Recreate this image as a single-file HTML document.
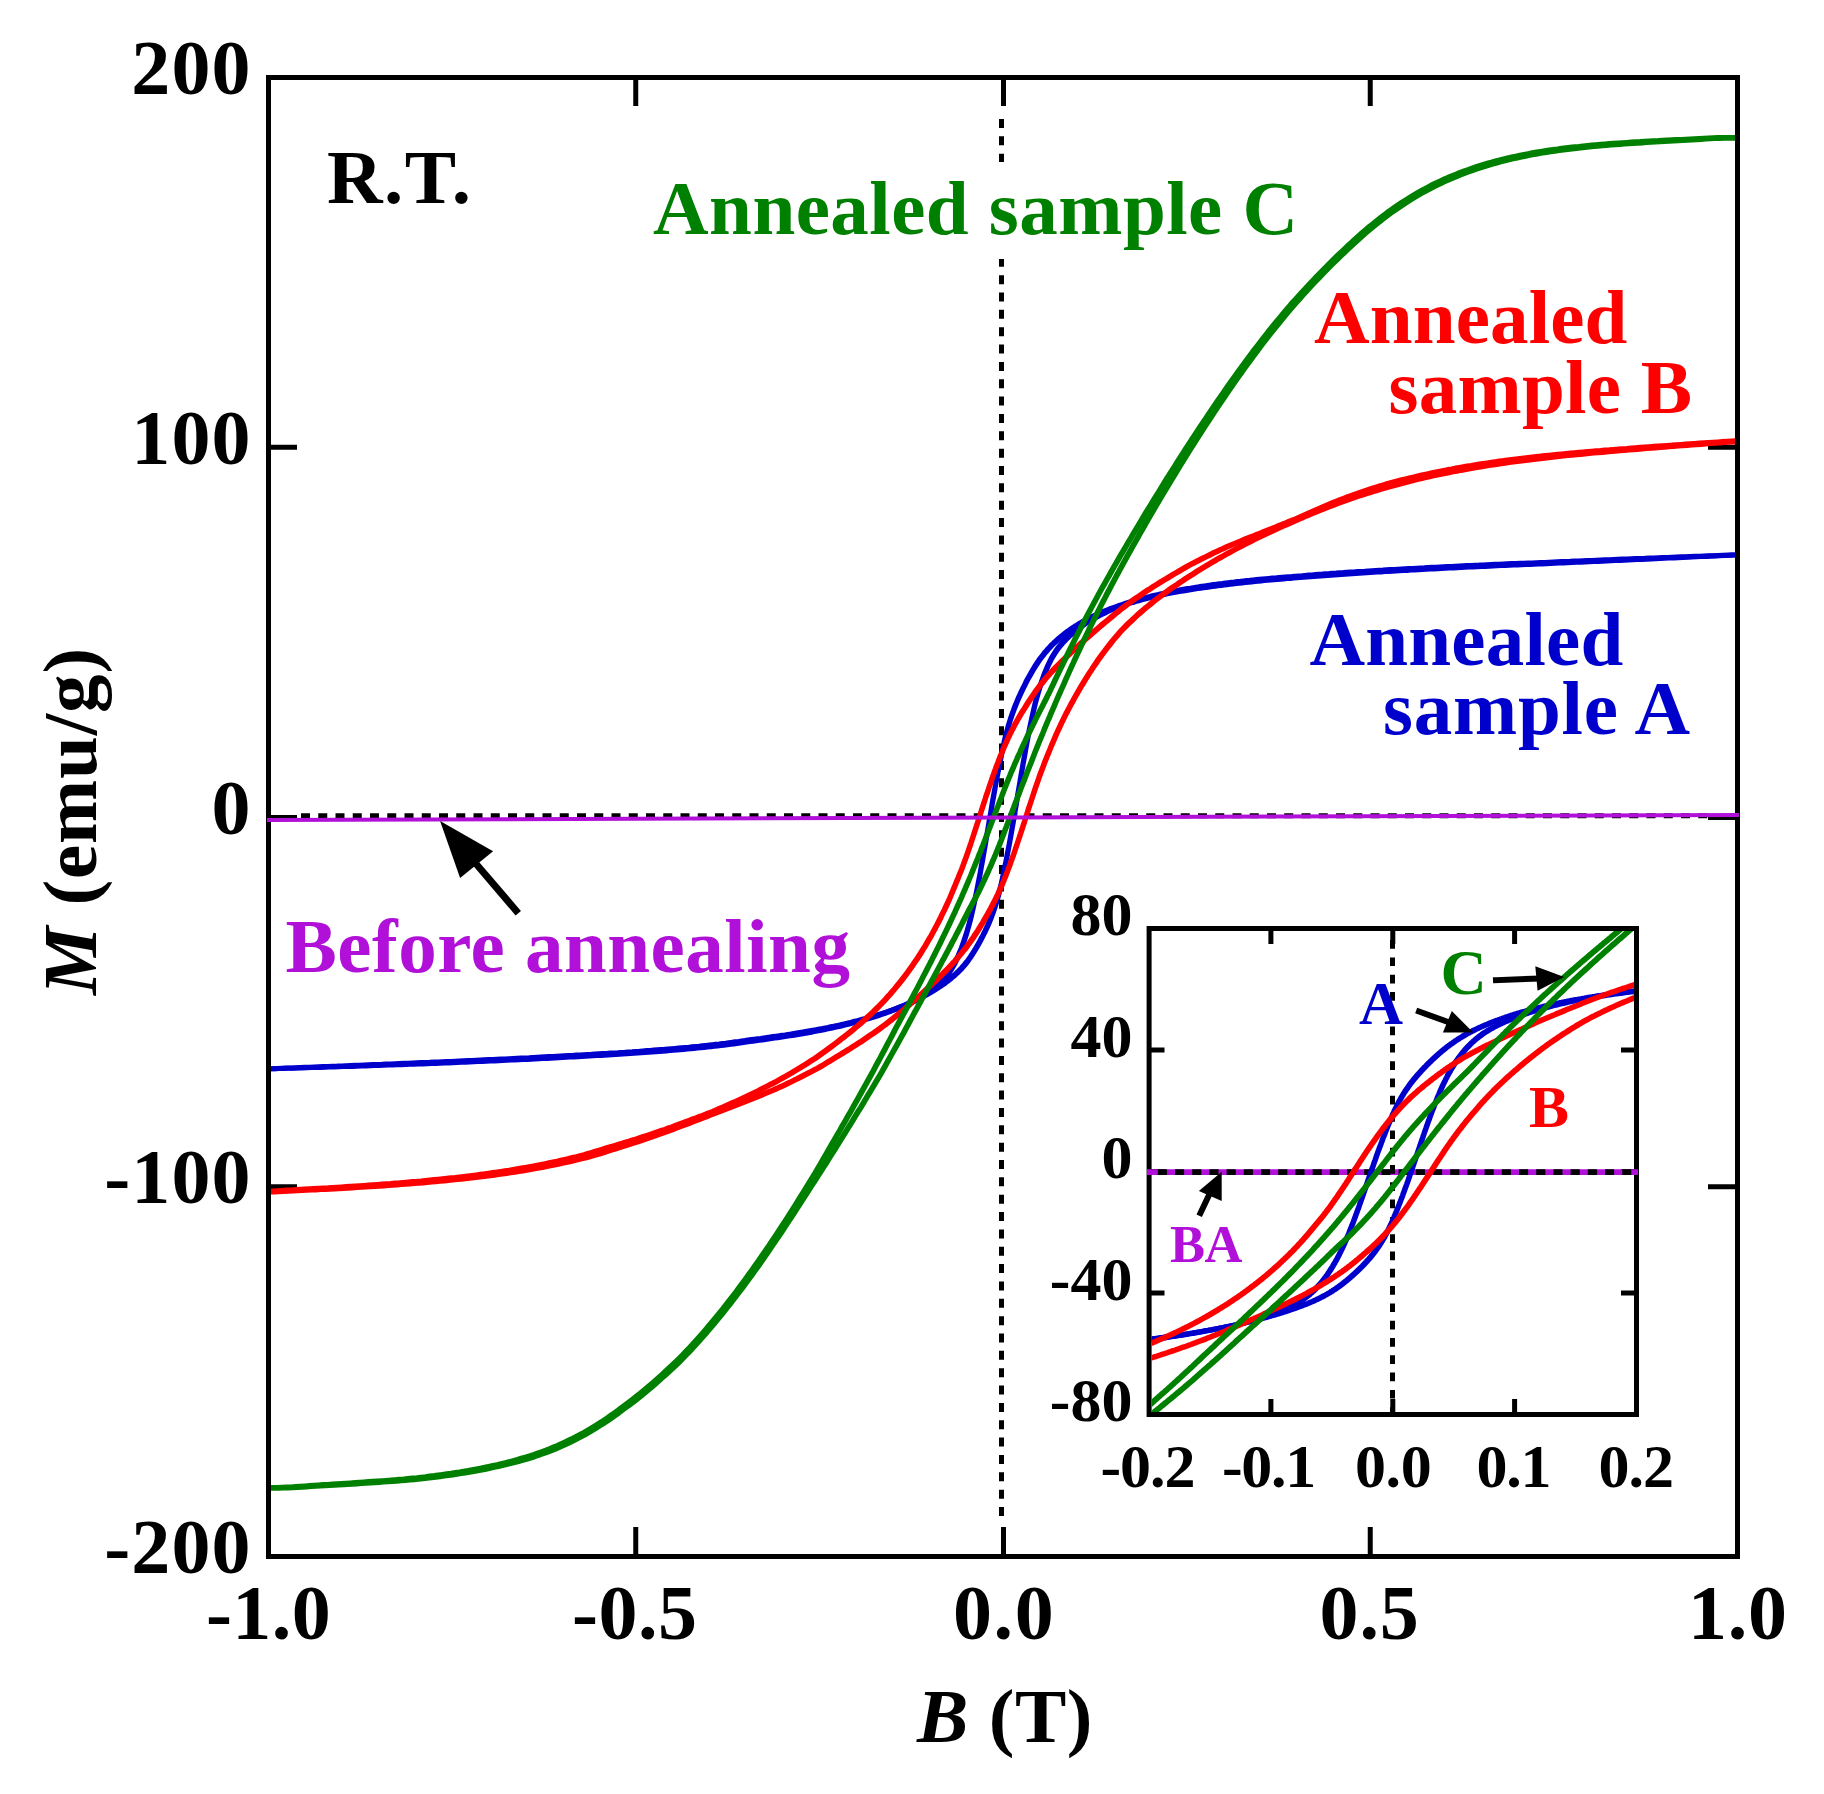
<!DOCTYPE html>
<html lang="en"><head><meta charset="utf-8"><title>M-B hysteresis loops</title>
<style>html,body{margin:0;padding:0;background:#fff}svg{display:block}text{font-family:"Liberation Serif",serif;font-weight:bold}</style></head><body>
<svg width="1824" height="1794" viewBox="0 0 1824 1794">
<rect width="1824" height="1794" fill="#fff"/>
<defs><filter id="pen" filterUnits="userSpaceOnUse" x="0" y="0" width="1824" height="1794"><feMorphology operator="dilate" radius="1"/></filter><clipPath id="cm"><rect x="271" y="80" width="1464" height="1474"/></clipPath><clipPath id="ci"><rect x="1151.6" y="931" width="482.4" height="481"/></clipPath></defs>
<g id="main-axes" stroke="#000" stroke-width="5" fill="none" stroke-linecap="butt">
<rect x="268.5" y="77.5" width="1469" height="1479"/>
<path d="M635.75,77.5V106M635.75,1556.5V1527"/>
<path d="M1003.5,77.5V106M1003.5,1556.5V1527"/>
<path d="M1370.25,77.5V106M1370.25,1556.5V1527"/>
<path d="M268.5,447.25H297M1737.5,447.25H1708"/>
<path d="M268.5,817.5H297M1737.5,817.5H1708"/>
<path d="M268.5,1186.75H297M1737.5,1186.75H1708"/>
</g>
<g id="main-zero" stroke="#000" stroke-width="5" fill="none" stroke-dasharray="9 8.35">
<path d="M1001.5,119V1518"/>
<path d="M301,815.7H1709" stroke-dasharray="9 8.25"/>
</g>
<g id="main-curves" fill="none" stroke-width="3" stroke-linejoin="round" clip-path="url(#cm)">
<path filter="url(#pen)" stroke="#0000cd" d="M268.5,1068.9 L273.2,1068.8 L277.9,1068.6 L282.6,1068.5 L287.3,1068.3 L291.9,1068.2 L296.6,1068.1 L301.2,1067.9 L305.8,1067.8 L310.4,1067.6 L315.0,1067.5 L319.6,1067.4 L324.2,1067.2 L328.8,1067.1 L333.3,1066.9 L337.9,1066.8 L342.4,1066.6 L346.9,1066.5 L351.4,1066.4 L355.9,1066.2 L360.4,1066.1 L364.9,1065.9 L369.4,1065.8 L373.8,1065.6 L378.2,1065.4 L382.7,1065.3 L387.1,1065.1 L391.5,1065.0 L395.9,1064.8 L400.3,1064.7 L404.6,1064.5 L409.0,1064.3 L413.3,1064.2 L417.7,1064.0 L422.0,1063.9 L426.3,1063.7 L430.6,1063.5 L434.9,1063.4 L439.1,1063.2 L443.4,1063.0 L447.6,1062.9 L451.9,1062.7 L456.1,1062.5 L460.3,1062.3 L464.5,1062.2 L468.7,1062.0 L472.9,1061.8 L477.0,1061.6 L481.2,1061.5 L485.3,1061.3 L489.4,1061.1 L493.6,1060.9 L497.7,1060.7 L501.7,1060.5 L505.8,1060.3 L509.9,1060.1 L513.9,1059.9 L518.0,1059.8 L522.0,1059.6 L526.0,1059.4 L530.0,1059.2 L534.0,1059.0 L538.0,1058.8 L541.9,1058.6 L545.9,1058.4 L549.8,1058.2 L553.7,1058.0 L557.7,1057.8 L561.5,1057.5 L565.4,1057.3 L569.3,1057.1 L573.2,1056.9 L577.0,1056.7 L580.8,1056.5 L584.7,1056.3 L588.5,1056.1 L592.3,1055.8 L596.0,1055.6 L599.8,1055.4 L603.6,1055.2 L607.3,1054.9 L611.0,1054.7 L614.8,1054.5 L618.5,1054.3 L622.1,1054.0 L625.8,1053.8 L629.5,1053.5 L633.1,1053.3 L636.8,1053.0 L640.4,1052.8 L644.0,1052.5 L647.6,1052.2 L651.2,1052.0 L654.7,1051.7 L658.3,1051.4 L661.8,1051.2 L665.4,1050.9 L668.9,1050.6 L672.4,1050.3 L675.9,1050.0 L679.3,1049.7 L682.8,1049.4 L686.2,1049.1 L689.7,1048.8 L693.1,1048.5 L696.5,1048.1 L699.9,1047.8 L703.2,1047.4 L706.6,1047.1 L709.9,1046.7 L713.3,1046.3 L716.6,1046.0 L719.9,1045.6 L723.2,1045.2 L726.4,1044.8 L729.7,1044.3 L732.9,1043.9 L736.2,1043.4 L739.4,1043.0 L742.6,1042.5 L745.8,1042.1 L748.9,1041.6 L752.1,1041.2 L755.2,1040.7 L758.4,1040.3 L761.5,1039.9 L764.6,1039.4 L767.7,1039.0 L770.7,1038.5 L773.8,1038.1 L776.8,1037.7 L779.8,1037.2 L782.8,1036.7 L785.8,1036.3 L788.8,1035.8 L791.8,1035.4 L794.7,1034.9 L797.6,1034.4 L800.5,1033.9 L803.4,1033.4 L806.3,1032.9 L809.2,1032.4 L812.0,1031.9 L814.9,1031.3 L817.7,1030.8 L820.5,1030.3 L823.3,1029.7 L826.1,1029.1 L828.8,1028.6 L831.5,1028.0 L834.3,1027.4 L837.0,1026.8 L839.7,1026.2 L842.3,1025.5 L845.0,1024.9 L847.6,1024.2 L850.3,1023.6 L852.9,1022.9 L855.4,1022.2 L858.0,1021.5 L860.6,1020.8 L863.1,1020.1 L865.6,1019.4 L868.1,1018.6 L870.6,1017.9 L873.1,1017.1 L875.5,1016.3 L878.0,1015.5 L880.4,1014.7 L882.8,1013.9 L885.2,1013.0 L887.5,1012.2 L889.9,1011.3 L892.2,1010.4 L894.5,1009.5 L896.8,1008.6 L899.1,1007.6 L901.3,1006.7 L903.6,1005.8 L905.8,1004.8 L908.0,1003.8 L910.1,1002.8 L912.3,1001.8 L914.4,1000.8 L916.6,999.8 L918.7,998.8 L920.8,997.7 L922.8,996.6 L924.9,995.5 L926.9,994.4 L928.9,993.3 L930.9,992.1 L932.8,990.9 L934.8,989.7 L936.7,988.5 L938.6,987.3 L940.5,986.0 L942.3,984.8 L944.2,983.5 L946.0,982.1 L947.8,980.8 L949.6,979.4 L951.3,978.0 L953.0,976.5 L954.8,975.0 L956.4,973.5 L958.1,971.9 L959.7,970.3 L961.4,968.6 L962.9,966.8 L964.5,965.0 L966.1,963.0 L967.6,961.1 L969.1,959.0 L970.6,956.9 L972.0,954.7 L973.4,952.5 L974.8,950.3 L976.2,948.0 L977.6,945.6 L978.9,943.3 L980.2,940.9 L981.4,938.5 L982.7,936.1 L983.9,933.7 L985.1,931.3 L986.2,928.8 L987.4,926.4 L988.5,923.9 L989.5,921.4 L990.6,918.9 L991.6,916.3 L992.5,913.7 L993.5,911.1 L994.4,908.5 L995.3,905.8 L996.1,903.2 L996.9,900.5 L997.7,897.9 L998.4,895.3 L999.1,892.8 L999.7,890.3 L1000.3,887.9 L1000.9,885.6 L1001.4,883.5 L1001.8,881.5 L1002.2,879.8 L1002.5,878.2 L1002.8,877.0 L1003.0,876.2 L1003.0,875.9 L1003.2,875.1 L1003.5,873.9 L1003.8,872.3 L1004.2,870.4 L1004.6,868.2 L1005.1,865.7 L1005.7,863.0 L1006.3,860.0 L1006.9,856.7 L1007.6,853.1 L1008.3,849.3 L1009.1,845.2 L1009.9,840.8 L1010.7,836.2 L1011.6,831.3 L1012.5,826.1 L1013.5,820.6 L1014.4,814.9 L1015.4,809.0 L1016.5,802.8 L1017.5,796.4 L1018.6,789.9 L1019.8,783.2 L1020.9,776.3 L1022.1,769.4 L1023.3,762.4 L1024.6,755.4 L1025.8,748.4 L1027.1,741.4 L1028.4,734.5 L1029.8,727.8 L1031.2,721.2 L1032.6,714.8 L1034.0,708.6 L1035.4,702.7 L1036.9,697.2 L1038.4,691.9 L1039.9,686.9 L1041.5,682.2 L1043.1,677.8 L1044.6,673.6 L1046.3,669.6 L1047.9,665.9 L1049.6,662.4 L1051.2,659.1 L1053.0,656.1 L1054.7,653.3 L1056.4,650.6 L1058.2,648.2 L1060.0,645.9 L1061.8,643.7 L1063.7,641.6 L1065.5,639.7 L1067.4,637.8 L1069.3,636.0 L1071.2,634.3 L1073.2,632.6 L1075.1,631.0 L1077.1,629.5 L1079.1,627.9 L1081.1,626.4 L1083.2,625.0 L1085.2,623.6 L1087.3,622.2 L1089.4,620.9 L1091.6,619.7 L1093.7,618.4 L1095.9,617.3 L1098.0,616.1 L1100.2,615.0 L1102.4,613.9 L1104.7,612.8 L1106.9,611.7 L1109.2,610.7 L1111.5,609.7 L1113.8,608.7 L1116.1,607.8 L1118.5,606.9 L1120.8,606.0 L1123.2,605.2 L1125.6,604.4 L1128.0,603.6 L1130.5,602.9 L1132.9,602.2 L1135.4,601.4 L1137.9,600.7 L1140.4,600.1 L1142.9,599.4 L1145.4,598.7 L1148.0,598.1 L1150.6,597.5 L1153.1,596.8 L1155.7,596.2 L1158.4,595.6 L1161.0,595.1 L1163.7,594.5 L1166.3,593.9 L1169.0,593.4 L1171.7,592.9 L1174.5,592.3 L1177.2,591.8 L1179.9,591.3 L1182.7,590.9 L1185.5,590.4 L1188.3,589.9 L1191.1,589.5 L1194.0,589.1 L1196.8,588.6 L1199.7,588.2 L1202.6,587.8 L1205.5,587.4 L1208.4,587.0 L1211.3,586.6 L1214.2,586.2 L1217.2,585.8 L1220.2,585.4 L1223.2,585.0 L1226.2,584.7 L1229.2,584.3 L1232.2,583.9 L1235.3,583.6 L1238.3,583.2 L1241.4,582.9 L1244.5,582.5 L1247.6,582.2 L1250.8,581.9 L1253.9,581.6 L1257.1,581.3 L1260.2,580.9 L1263.4,580.6 L1266.6,580.3 L1269.8,580.1 L1273.1,579.8 L1276.3,579.5 L1279.6,579.2 L1282.8,578.9 L1286.1,578.6 L1289.4,578.4 L1292.7,578.1 L1296.1,577.8 L1299.4,577.5 L1302.8,577.3 L1306.1,577.0 L1309.5,576.7 L1312.9,576.5 L1316.3,576.2 L1319.8,575.9 L1323.2,575.7 L1326.7,575.4 L1330.1,575.2 L1333.6,574.9 L1337.1,574.7 L1340.6,574.4 L1344.2,574.2 L1347.7,574.0 L1351.3,573.7 L1354.8,573.5 L1358.4,573.2 L1362.0,573.0 L1365.6,572.8 L1369.2,572.5 L1372.9,572.3 L1376.5,572.1 L1380.2,571.9 L1383.9,571.6 L1387.5,571.4 L1391.2,571.2 L1395.0,571.0 L1398.7,570.8 L1402.4,570.6 L1406.2,570.4 L1410.0,570.1 L1413.7,569.9 L1417.5,569.7 L1421.3,569.5 L1425.2,569.3 L1429.0,569.1 L1432.8,568.9 L1436.7,568.7 L1440.6,568.5 L1444.5,568.3 L1448.3,568.1 L1452.3,567.9 L1456.2,567.7 L1460.1,567.5 L1464.1,567.3 L1468.0,567.1 L1472.0,566.9 L1476.0,566.8 L1480.0,566.6 L1484.0,566.4 L1488.0,566.2 L1492.1,566.0 L1496.1,565.8 L1500.2,565.6 L1504.3,565.4 L1508.3,565.3 L1512.4,565.1 L1516.6,564.9 L1520.7,564.7 L1524.8,564.6 L1529.0,564.4 L1533.1,564.3 L1537.3,564.1 L1541.5,563.9 L1545.7,563.7 L1549.9,563.5 L1554.1,563.3 L1558.4,563.1 L1562.6,562.9 L1566.9,562.7 L1571.1,562.5 L1575.4,562.3 L1579.7,562.2 L1584.0,562.0 L1588.3,561.8 L1592.7,561.6 L1597.0,561.4 L1601.4,561.2 L1605.7,561.0 L1610.1,560.8 L1614.5,560.6 L1618.9,560.4 L1623.3,560.2 L1627.8,560.0 L1632.2,559.8 L1636.6,559.6 L1641.1,559.4 L1645.6,559.2 L1650.1,558.9 L1654.6,558.7 L1659.1,558.5 L1663.6,558.3 L1668.1,558.1 L1672.7,557.9 L1677.2,557.7 L1681.8,557.5 L1686.4,557.2 L1691.0,557.0 L1695.6,556.8 L1700.2,556.6 L1704.8,556.4 L1709.4,556.2 L1714.1,555.9 L1718.7,555.7 L1723.4,555.5 L1728.1,555.3 L1732.8,555.1 L1737.5,554.9"/>
<path filter="url(#pen)" stroke="#0000cd" d="M268.5,1068.9 L273.2,1068.7 L277.9,1068.5 L282.6,1068.3 L287.3,1068.1 L291.9,1067.9 L296.6,1067.7 L301.2,1067.5 L305.8,1067.3 L310.4,1067.2 L315.0,1067.0 L319.6,1066.8 L324.2,1066.6 L328.8,1066.4 L333.3,1066.2 L337.9,1066.1 L342.4,1065.9 L346.9,1065.7 L351.4,1065.5 L355.9,1065.3 L360.4,1065.2 L364.9,1065.0 L369.4,1064.8 L373.8,1064.6 L378.2,1064.4 L382.7,1064.3 L387.1,1064.1 L391.5,1063.9 L395.9,1063.7 L400.3,1063.5 L404.6,1063.3 L409.0,1063.2 L413.3,1063.0 L417.7,1062.8 L422.0,1062.6 L426.3,1062.4 L430.6,1062.3 L434.9,1062.1 L439.1,1061.9 L443.4,1061.7 L447.6,1061.5 L451.9,1061.4 L456.1,1061.2 L460.3,1061.0 L464.5,1060.8 L468.7,1060.6 L472.9,1060.4 L477.0,1060.2 L481.2,1060.0 L485.3,1059.8 L489.4,1059.6 L493.6,1059.5 L497.7,1059.3 L501.7,1059.1 L505.8,1058.9 L509.9,1058.7 L513.9,1058.5 L518.0,1058.3 L522.0,1058.1 L526.0,1057.9 L530.0,1057.7 L534.0,1057.4 L538.0,1057.2 L541.9,1057.0 L545.9,1056.8 L549.8,1056.6 L553.7,1056.4 L557.7,1056.2 L561.5,1056.0 L565.4,1055.8 L569.3,1055.6 L573.2,1055.4 L577.0,1055.1 L580.8,1054.9 L584.7,1054.7 L588.5,1054.5 L592.3,1054.3 L596.0,1054.0 L599.8,1053.8 L603.6,1053.6 L607.3,1053.4 L611.0,1053.1 L614.8,1052.9 L618.5,1052.7 L622.1,1052.4 L625.8,1052.2 L629.5,1051.9 L633.1,1051.7 L636.8,1051.4 L640.4,1051.2 L644.0,1050.9 L647.6,1050.6 L651.2,1050.4 L654.7,1050.1 L658.3,1049.8 L661.8,1049.5 L665.4,1049.3 L668.9,1049.0 L672.4,1048.7 L675.9,1048.4 L679.3,1048.1 L682.8,1047.8 L686.2,1047.5 L689.7,1047.2 L693.1,1046.8 L696.5,1046.5 L699.9,1046.2 L703.2,1045.8 L706.6,1045.4 L709.9,1045.1 L713.3,1044.7 L716.6,1044.3 L719.9,1044.0 L723.2,1043.6 L726.4,1043.2 L729.7,1042.7 L732.9,1042.3 L736.2,1041.8 L739.4,1041.4 L742.6,1040.9 L745.8,1040.5 L748.9,1040.0 L752.1,1039.6 L755.2,1039.2 L758.4,1038.8 L761.5,1038.4 L764.6,1037.9 L767.7,1037.5 L770.7,1037.1 L773.8,1036.6 L776.8,1036.2 L779.8,1035.8 L782.8,1035.3 L785.8,1034.9 L788.8,1034.4 L791.8,1034.0 L794.7,1033.5 L797.6,1033.0 L800.5,1032.5 L803.4,1032.1 L806.3,1031.6 L809.2,1031.1 L812.0,1030.6 L814.9,1030.1 L817.7,1029.5 L820.5,1029.0 L823.3,1028.5 L826.1,1027.9 L828.8,1027.4 L831.5,1026.8 L834.3,1026.3 L837.0,1025.7 L839.7,1025.1 L842.3,1024.5 L845.0,1023.9 L847.6,1023.3 L850.3,1022.6 L852.9,1022.0 L855.4,1021.3 L858.0,1020.7 L860.6,1020.0 L863.1,1019.3 L865.6,1018.6 L868.1,1017.9 L870.6,1017.2 L873.1,1016.5 L875.5,1015.7 L878.0,1015.0 L880.4,1014.2 L882.8,1013.4 L885.2,1012.6 L887.5,1011.8 L889.9,1011.0 L892.2,1010.2 L894.5,1009.3 L896.8,1008.5 L899.1,1007.6 L901.3,1006.7 L903.6,1005.8 L905.8,1004.9 L908.0,1003.9 L910.1,1002.9 L912.3,1001.9 L914.4,1000.8 L916.6,999.7 L918.7,998.6 L920.8,997.5 L922.8,996.3 L924.9,995.0 L926.9,993.7 L928.9,992.4 L930.9,991.0 L932.8,989.5 L934.8,988.0 L936.7,986.3 L938.6,984.6 L940.5,982.8 L942.3,980.9 L944.2,978.8 L946.0,976.6 L947.8,974.3 L949.6,971.8 L951.3,969.1 L953.0,966.3 L954.8,963.2 L956.4,959.9 L958.1,956.4 L959.7,952.6 L961.4,948.6 L962.9,944.3 L964.5,939.6 L966.1,934.8 L967.6,929.7 L969.1,924.3 L970.6,918.7 L972.0,912.8 L973.4,906.6 L974.8,900.2 L976.2,893.7 L977.6,886.9 L978.9,880.1 L980.2,873.2 L981.4,866.2 L982.7,859.3 L983.9,852.3 L985.1,845.5 L986.2,838.7 L987.4,832.1 L988.5,825.7 L989.5,819.4 L990.6,813.4 L991.6,807.5 L992.5,801.9 L993.5,796.6 L994.4,791.5 L995.3,786.6 L996.1,782.1 L996.9,777.8 L997.7,773.8 L998.4,770.0 L999.1,766.5 L999.7,763.3 L1000.3,760.4 L1000.9,757.7 L1001.4,755.3 L1001.8,753.1 L1002.2,751.3 L1002.5,749.7 L1002.8,748.5 L1003.0,747.7 L1003.0,747.4 L1003.2,746.6 L1003.5,745.4 L1003.8,744.0 L1004.2,742.2 L1004.6,740.3 L1005.1,738.2 L1005.7,736.0 L1006.3,733.7 L1006.9,731.3 L1007.6,728.8 L1008.3,726.3 L1009.1,723.7 L1009.9,721.1 L1010.7,718.5 L1011.6,715.9 L1012.5,713.3 L1013.5,710.7 L1014.4,708.1 L1015.4,705.6 L1016.5,703.0 L1017.5,700.5 L1018.6,697.9 L1019.8,695.4 L1020.9,692.9 L1022.1,690.4 L1023.3,687.9 L1024.6,685.4 L1025.8,682.8 L1027.1,680.3 L1028.4,677.9 L1029.8,675.4 L1031.2,672.9 L1032.6,670.5 L1034.0,668.2 L1035.4,665.9 L1036.9,663.6 L1038.4,661.4 L1039.9,659.2 L1041.5,657.1 L1043.1,655.1 L1044.6,653.1 L1046.3,651.2 L1047.9,649.3 L1049.6,647.5 L1051.2,645.7 L1053.0,644.0 L1054.7,642.4 L1056.4,640.8 L1058.2,639.2 L1060.0,637.7 L1061.8,636.2 L1063.7,634.7 L1065.5,633.3 L1067.4,631.8 L1069.3,630.4 L1071.2,629.1 L1073.2,627.7 L1075.1,626.4 L1077.1,625.2 L1079.1,623.9 L1081.1,622.8 L1083.2,621.6 L1085.2,620.5 L1087.3,619.4 L1089.4,618.3 L1091.6,617.2 L1093.7,616.2 L1095.9,615.1 L1098.0,614.1 L1100.2,613.1 L1102.4,612.2 L1104.7,611.2 L1106.9,610.3 L1109.2,609.4 L1111.5,608.5 L1113.8,607.7 L1116.1,606.8 L1118.5,606.0 L1120.8,605.1 L1123.2,604.3 L1125.6,603.5 L1128.0,602.8 L1130.5,602.0 L1132.9,601.3 L1135.4,600.6 L1137.9,599.8 L1140.4,599.1 L1142.9,598.5 L1145.4,597.8 L1148.0,597.1 L1150.6,596.5 L1153.1,595.8 L1155.7,595.2 L1158.4,594.6 L1161.0,594.0 L1163.7,593.4 L1166.3,592.8 L1169.0,592.3 L1171.7,591.7 L1174.5,591.2 L1177.2,590.7 L1179.9,590.1 L1182.7,589.6 L1185.5,589.1 L1188.3,588.6 L1191.1,588.2 L1194.0,587.7 L1196.8,587.2 L1199.7,586.8 L1202.6,586.3 L1205.5,585.9 L1208.4,585.5 L1211.3,585.1 L1214.2,584.6 L1217.2,584.2 L1220.2,583.8 L1223.2,583.5 L1226.2,583.1 L1229.2,582.7 L1232.2,582.3 L1235.3,582.0 L1238.3,581.6 L1241.4,581.3 L1244.5,580.9 L1247.6,580.6 L1250.8,580.3 L1253.9,579.9 L1257.1,579.6 L1260.2,579.3 L1263.4,579.0 L1266.6,578.7 L1269.8,578.4 L1273.1,578.1 L1276.3,577.9 L1279.6,577.6 L1282.8,577.3 L1286.1,577.0 L1289.4,576.7 L1292.7,576.5 L1296.1,576.2 L1299.4,575.9 L1302.8,575.7 L1306.1,575.4 L1309.5,575.1 L1312.9,574.9 L1316.3,574.6 L1319.8,574.3 L1323.2,574.1 L1326.7,573.8 L1330.1,573.6 L1333.6,573.3 L1337.1,573.1 L1340.6,572.8 L1344.2,572.6 L1347.7,572.3 L1351.3,572.1 L1354.8,571.9 L1358.4,571.6 L1362.0,571.4 L1365.6,571.2 L1369.2,570.9 L1372.9,570.7 L1376.5,570.5 L1380.2,570.3 L1383.9,570.1 L1387.5,569.8 L1391.2,569.6 L1395.0,569.4 L1398.7,569.2 L1402.4,569.0 L1406.2,568.8 L1410.0,568.6 L1413.7,568.4 L1417.5,568.2 L1421.3,568.0 L1425.2,567.8 L1429.0,567.5 L1432.8,567.3 L1436.7,567.2 L1440.6,567.0 L1444.5,566.8 L1448.3,566.6 L1452.3,566.4 L1456.2,566.2 L1460.1,566.0 L1464.1,565.8 L1468.0,565.6 L1472.0,565.4 L1476.0,565.2 L1480.0,565.1 L1484.0,564.9 L1488.0,564.7 L1492.1,564.5 L1496.1,564.3 L1500.2,564.2 L1504.3,564.0 L1508.3,563.8 L1512.4,563.6 L1516.6,563.5 L1520.7,563.3 L1524.8,563.2 L1529.0,563.0 L1533.1,562.9 L1537.3,562.7 L1541.5,562.5 L1545.7,562.4 L1549.9,562.2 L1554.1,562.0 L1558.4,561.8 L1562.6,561.6 L1566.9,561.4 L1571.1,561.3 L1575.4,561.1 L1579.7,560.9 L1584.0,560.7 L1588.3,560.5 L1592.7,560.4 L1597.0,560.2 L1601.4,560.0 L1605.7,559.8 L1610.1,559.7 L1614.5,559.5 L1618.9,559.3 L1623.3,559.1 L1627.8,559.0 L1632.2,558.8 L1636.6,558.6 L1641.1,558.4 L1645.6,558.3 L1650.1,558.1 L1654.6,557.9 L1659.1,557.7 L1663.6,557.5 L1668.1,557.4 L1672.7,557.2 L1677.2,557.0 L1681.8,556.8 L1686.4,556.7 L1691.0,556.5 L1695.6,556.3 L1700.2,556.2 L1704.8,556.0 L1709.4,555.8 L1714.1,555.7 L1718.7,555.5 L1723.4,555.3 L1728.1,555.2 L1732.8,555.0 L1737.5,554.9"/>
<path filter="url(#pen)" stroke="#ff0000" d="M268.5,1192.2 L273.2,1191.9 L277.9,1191.7 L282.6,1191.4 L287.3,1191.2 L291.9,1191.0 L296.6,1190.8 L301.2,1190.5 L305.8,1190.3 L310.4,1190.1 L315.0,1189.9 L319.6,1189.6 L324.2,1189.4 L328.8,1189.2 L333.3,1188.9 L337.9,1188.7 L342.4,1188.4 L346.9,1188.2 L351.4,1187.9 L355.9,1187.6 L360.4,1187.3 L364.9,1187.1 L369.4,1186.8 L373.8,1186.5 L378.2,1186.2 L382.7,1185.9 L387.1,1185.6 L391.5,1185.3 L395.9,1185.0 L400.3,1184.6 L404.6,1184.3 L409.0,1183.9 L413.3,1183.6 L417.7,1183.2 L422.0,1182.9 L426.3,1182.5 L430.6,1182.1 L434.9,1181.7 L439.1,1181.3 L443.4,1180.9 L447.6,1180.5 L451.9,1180.0 L456.1,1179.6 L460.3,1179.2 L464.5,1178.7 L468.7,1178.2 L472.9,1177.8 L477.0,1177.3 L481.2,1176.8 L485.3,1176.2 L489.4,1175.7 L493.6,1175.2 L497.7,1174.6 L501.7,1174.0 L505.8,1173.4 L509.9,1172.8 L513.9,1172.2 L518.0,1171.5 L522.0,1170.9 L526.0,1170.2 L530.0,1169.5 L534.0,1168.8 L538.0,1168.1 L541.9,1167.4 L545.9,1166.6 L549.8,1165.8 L553.7,1165.1 L557.7,1164.3 L561.5,1163.4 L565.4,1162.6 L569.3,1161.7 L573.2,1160.8 L577.0,1159.9 L580.8,1158.9 L584.7,1158.0 L588.5,1157.0 L592.3,1155.9 L596.0,1154.8 L599.8,1153.7 L603.6,1152.5 L607.3,1151.3 L611.0,1150.1 L614.8,1149.0 L618.5,1147.9 L622.1,1146.7 L625.8,1145.5 L629.5,1144.4 L633.1,1143.2 L636.8,1142.0 L640.4,1140.8 L644.0,1139.6 L647.6,1138.4 L651.2,1137.2 L654.7,1135.9 L658.3,1134.6 L661.8,1133.4 L665.4,1132.1 L668.9,1130.8 L672.4,1129.5 L675.9,1128.2 L679.3,1126.9 L682.8,1125.6 L686.2,1124.3 L689.7,1123.0 L693.1,1121.7 L696.5,1120.4 L699.9,1119.1 L703.2,1117.8 L706.6,1116.5 L709.9,1115.2 L713.3,1113.9 L716.6,1112.7 L719.9,1111.4 L723.2,1110.1 L726.4,1108.8 L729.7,1107.6 L732.9,1106.3 L736.2,1105.0 L739.4,1103.8 L742.6,1102.5 L745.8,1101.3 L748.9,1100.0 L752.1,1098.8 L755.2,1097.6 L758.4,1096.3 L761.5,1095.0 L764.6,1093.7 L767.7,1092.4 L770.7,1091.1 L773.8,1089.8 L776.8,1088.5 L779.8,1087.1 L782.8,1085.8 L785.8,1084.4 L788.8,1082.9 L791.8,1081.5 L794.7,1080.0 L797.6,1078.6 L800.5,1077.1 L803.4,1075.6 L806.3,1074.2 L809.2,1072.7 L812.0,1071.2 L814.9,1069.7 L817.7,1068.2 L820.5,1066.6 L823.3,1065.0 L826.1,1063.3 L828.8,1061.6 L831.5,1060.0 L834.3,1058.3 L837.0,1056.6 L839.7,1055.0 L842.3,1053.4 L845.0,1051.7 L847.6,1050.1 L850.3,1048.5 L852.9,1046.8 L855.4,1045.2 L858.0,1043.5 L860.6,1041.9 L863.1,1040.2 L865.6,1038.5 L868.1,1036.8 L870.6,1035.1 L873.1,1033.4 L875.5,1031.7 L878.0,1030.0 L880.4,1028.2 L882.8,1026.4 L885.2,1024.7 L887.5,1022.9 L889.9,1021.0 L892.2,1019.2 L894.5,1017.3 L896.8,1015.5 L899.1,1013.6 L901.3,1011.7 L903.6,1009.8 L905.8,1007.9 L908.0,1006.0 L910.1,1004.1 L912.3,1002.2 L914.4,1000.3 L916.6,998.4 L918.7,996.6 L920.8,994.7 L922.8,992.8 L924.9,990.9 L926.9,989.0 L928.9,987.2 L930.9,985.3 L932.8,983.5 L934.8,981.6 L936.7,979.8 L938.6,978.0 L940.5,976.1 L942.3,974.3 L944.2,972.4 L946.0,970.6 L947.8,968.7 L949.6,966.8 L951.3,965.0 L953.0,963.1 L954.8,961.2 L956.4,959.2 L958.1,957.3 L959.7,955.4 L961.4,953.4 L962.9,951.4 L964.5,949.5 L966.1,947.5 L967.6,945.5 L969.1,943.4 L970.6,941.4 L972.0,939.3 L973.4,937.3 L974.8,935.2 L976.2,933.1 L977.6,931.0 L978.9,928.9 L980.2,926.8 L981.4,924.7 L982.7,922.7 L983.9,920.6 L985.1,918.5 L986.2,916.5 L987.4,914.5 L988.5,912.5 L989.5,910.6 L990.6,908.7 L991.6,906.8 L992.5,904.9 L993.5,903.1 L994.4,901.3 L995.3,899.5 L996.1,897.8 L996.9,896.2 L997.7,894.6 L998.4,893.0 L999.1,891.5 L999.7,890.1 L1000.3,888.8 L1000.9,887.5 L1001.4,886.4 L1001.8,885.4 L1002.2,884.4 L1002.5,883.7 L1002.8,883.0 L1003.0,882.6 L1003.0,882.5 L1003.2,882.1 L1003.5,881.4 L1003.8,880.6 L1004.2,879.7 L1004.6,878.6 L1005.1,877.3 L1005.7,875.9 L1006.3,874.4 L1006.9,872.8 L1007.6,871.0 L1008.3,869.1 L1009.1,867.0 L1009.9,864.9 L1010.7,862.6 L1011.6,860.1 L1012.5,857.6 L1013.5,854.9 L1014.4,852.1 L1015.4,849.1 L1016.5,846.1 L1017.5,842.9 L1018.6,839.6 L1019.8,836.1 L1020.9,832.6 L1022.1,829.0 L1023.3,825.2 L1024.6,821.4 L1025.8,817.4 L1027.1,813.4 L1028.4,809.3 L1029.8,805.1 L1031.2,800.9 L1032.6,796.6 L1034.0,792.3 L1035.4,788.0 L1036.9,783.7 L1038.4,779.4 L1039.9,775.1 L1041.5,770.9 L1043.1,766.7 L1044.6,762.5 L1046.3,758.4 L1047.9,754.3 L1049.6,750.3 L1051.2,746.2 L1053.0,742.2 L1054.7,738.2 L1056.4,734.1 L1058.2,730.2 L1060.0,726.3 L1061.8,722.4 L1063.7,718.6 L1065.5,714.9 L1067.4,711.2 L1069.3,707.6 L1071.2,704.0 L1073.2,700.4 L1075.1,696.9 L1077.1,693.4 L1079.1,690.0 L1081.1,686.5 L1083.2,683.1 L1085.2,679.7 L1087.3,676.4 L1089.4,673.0 L1091.6,669.8 L1093.7,666.5 L1095.9,663.3 L1098.0,660.2 L1100.2,657.1 L1102.4,654.1 L1104.7,651.1 L1106.9,648.1 L1109.2,645.2 L1111.5,642.3 L1113.8,639.4 L1116.1,636.7 L1118.5,633.9 L1120.8,631.3 L1123.2,628.8 L1125.6,626.4 L1128.0,623.9 L1130.5,621.6 L1132.9,619.3 L1135.4,617.0 L1137.9,614.7 L1140.4,612.5 L1142.9,610.3 L1145.4,608.2 L1148.0,606.1 L1150.6,604.0 L1153.1,601.9 L1155.7,599.9 L1158.4,597.9 L1161.0,595.9 L1163.7,593.9 L1166.3,592.0 L1169.0,590.0 L1171.7,588.1 L1174.5,586.2 L1177.2,584.4 L1179.9,582.5 L1182.7,580.7 L1185.5,578.8 L1188.3,577.0 L1191.1,575.2 L1194.0,573.4 L1196.8,571.6 L1199.7,569.8 L1202.6,568.0 L1205.5,566.3 L1208.4,564.5 L1211.3,562.8 L1214.2,561.1 L1217.2,559.3 L1220.2,557.6 L1223.2,556.0 L1226.2,554.3 L1229.2,552.6 L1232.2,551.0 L1235.3,549.3 L1238.3,547.7 L1241.4,546.1 L1244.5,544.5 L1247.6,542.9 L1250.8,541.3 L1253.9,539.7 L1257.1,538.2 L1260.2,536.7 L1263.4,535.1 L1266.6,533.6 L1269.8,532.1 L1273.1,530.6 L1276.3,529.1 L1279.6,527.7 L1282.8,526.2 L1286.1,524.8 L1289.4,523.3 L1292.7,521.8 L1296.1,520.4 L1299.4,518.9 L1302.8,517.5 L1306.1,516.0 L1309.5,514.6 L1312.9,513.2 L1316.3,511.8 L1319.8,510.4 L1323.2,509.1 L1326.7,507.7 L1330.1,506.4 L1333.6,505.0 L1337.1,503.7 L1340.6,502.4 L1344.2,501.1 L1347.7,499.8 L1351.3,498.6 L1354.8,497.4 L1358.4,496.2 L1362.0,495.0 L1365.6,493.8 L1369.2,492.7 L1372.9,491.6 L1376.5,490.5 L1380.2,489.4 L1383.9,488.3 L1387.5,487.2 L1391.2,486.2 L1395.0,485.2 L1398.7,484.2 L1402.4,483.2 L1406.2,482.2 L1410.0,481.3 L1413.7,480.3 L1417.5,479.4 L1421.3,478.5 L1425.2,477.6 L1429.0,476.8 L1432.8,475.9 L1436.7,475.1 L1440.6,474.3 L1444.5,473.5 L1448.3,472.7 L1452.3,471.9 L1456.2,471.2 L1460.1,470.4 L1464.1,469.7 L1468.0,469.0 L1472.0,468.3 L1476.0,467.6 L1480.0,466.9 L1484.0,466.3 L1488.0,465.6 L1492.1,465.0 L1496.1,464.4 L1500.2,463.8 L1504.3,463.2 L1508.3,462.6 L1512.4,462.0 L1516.6,461.5 L1520.7,460.9 L1524.8,460.4 L1529.0,459.9 L1533.1,459.4 L1537.3,458.9 L1541.5,458.4 L1545.7,457.9 L1549.9,457.4 L1554.1,457.0 L1558.4,456.5 L1562.6,456.1 L1566.9,455.6 L1571.1,455.2 L1575.4,454.8 L1579.7,454.4 L1584.0,453.9 L1588.3,453.5 L1592.7,453.1 L1597.0,452.7 L1601.4,452.4 L1605.7,452.0 L1610.1,451.6 L1614.5,451.2 L1618.9,450.8 L1623.3,450.5 L1627.8,450.1 L1632.2,449.7 L1636.6,449.4 L1641.1,449.0 L1645.6,448.6 L1650.1,448.3 L1654.6,447.9 L1659.1,447.5 L1663.6,447.2 L1668.1,446.8 L1672.7,446.5 L1677.2,446.1 L1681.8,445.8 L1686.4,445.4 L1691.0,445.1 L1695.6,444.7 L1700.2,444.4 L1704.8,444.0 L1709.4,443.6 L1714.1,443.3 L1718.7,442.9 L1723.4,442.6 L1728.1,442.3 L1732.8,442.0 L1737.5,441.7"/>
<path filter="url(#pen)" stroke="#ff0000" d="M268.5,1191.2 L273.2,1190.9 L277.9,1190.7 L282.6,1190.4 L287.3,1190.1 L291.9,1189.9 L296.6,1189.6 L301.2,1189.3 L305.8,1189.1 L310.4,1188.8 L315.0,1188.6 L319.6,1188.3 L324.2,1188.0 L328.8,1187.8 L333.3,1187.5 L337.9,1187.2 L342.4,1186.9 L346.9,1186.6 L351.4,1186.3 L355.9,1186.0 L360.4,1185.7 L364.9,1185.4 L369.4,1185.1 L373.8,1184.8 L378.2,1184.5 L382.7,1184.1 L387.1,1183.8 L391.5,1183.5 L395.9,1183.1 L400.3,1182.8 L404.6,1182.4 L409.0,1182.0 L413.3,1181.6 L417.7,1181.3 L422.0,1180.9 L426.3,1180.4 L430.6,1180.0 L434.9,1179.6 L439.1,1179.2 L443.4,1178.7 L447.6,1178.3 L451.9,1177.8 L456.1,1177.4 L460.3,1176.9 L464.5,1176.4 L468.7,1175.9 L472.9,1175.4 L477.0,1174.9 L481.2,1174.3 L485.3,1173.8 L489.4,1173.2 L493.6,1172.6 L497.7,1172.1 L501.7,1171.4 L505.8,1170.8 L509.9,1170.2 L513.9,1169.5 L518.0,1168.8 L522.0,1168.1 L526.0,1167.4 L530.0,1166.7 L534.0,1166.0 L538.0,1165.2 L541.9,1164.4 L545.9,1163.6 L549.8,1162.8 L553.7,1162.0 L557.7,1161.2 L561.5,1160.3 L565.4,1159.4 L569.3,1158.5 L573.2,1157.5 L577.0,1156.6 L580.8,1155.6 L584.7,1154.6 L588.5,1153.5 L592.3,1152.5 L596.0,1151.3 L599.8,1150.1 L603.6,1149.0 L607.3,1147.8 L611.0,1146.7 L614.8,1145.6 L618.5,1144.5 L622.1,1143.4 L625.8,1142.3 L629.5,1141.2 L633.1,1140.0 L636.8,1138.9 L640.4,1137.7 L644.0,1136.5 L647.6,1135.3 L651.2,1134.1 L654.7,1132.9 L658.3,1131.7 L661.8,1130.5 L665.4,1129.3 L668.9,1128.0 L672.4,1126.8 L675.9,1125.5 L679.3,1124.2 L682.8,1122.9 L686.2,1121.6 L689.7,1120.3 L693.1,1119.0 L696.5,1117.8 L699.9,1116.5 L703.2,1115.3 L706.6,1114.0 L709.9,1112.6 L713.3,1111.3 L716.6,1109.9 L719.9,1108.5 L723.2,1107.1 L726.4,1105.7 L729.7,1104.2 L732.9,1102.7 L736.2,1101.3 L739.4,1099.8 L742.6,1098.3 L745.8,1096.8 L748.9,1095.3 L752.1,1093.8 L755.2,1092.3 L758.4,1090.8 L761.5,1089.2 L764.6,1087.6 L767.7,1086.0 L770.7,1084.4 L773.8,1082.8 L776.8,1081.2 L779.8,1079.5 L782.8,1077.9 L785.8,1076.2 L788.8,1074.5 L791.8,1072.8 L794.7,1071.0 L797.6,1069.3 L800.5,1067.5 L803.4,1065.7 L806.3,1063.9 L809.2,1062.1 L812.0,1060.2 L814.9,1058.4 L817.7,1056.5 L820.5,1054.5 L823.3,1052.5 L826.1,1050.5 L828.8,1048.5 L831.5,1046.5 L834.3,1044.4 L837.0,1042.4 L839.7,1040.3 L842.3,1038.2 L845.0,1036.2 L847.6,1034.1 L850.3,1032.0 L852.9,1029.9 L855.4,1027.7 L858.0,1025.6 L860.6,1023.4 L863.1,1021.2 L865.6,1018.9 L868.1,1016.6 L870.6,1014.3 L873.1,1012.0 L875.5,1009.6 L878.0,1007.2 L880.4,1004.7 L882.8,1002.2 L885.2,999.7 L887.5,997.1 L889.9,994.5 L892.2,991.8 L894.5,989.1 L896.8,986.3 L899.1,983.5 L901.3,980.7 L903.6,977.8 L905.8,974.9 L908.0,971.9 L910.1,968.9 L912.3,965.8 L914.4,962.7 L916.6,959.6 L918.7,956.4 L920.8,953.1 L922.8,949.8 L924.9,946.5 L926.9,943.1 L928.9,939.6 L930.9,936.2 L932.8,932.6 L934.8,929.0 L936.7,925.4 L938.6,921.7 L940.5,918.0 L942.3,914.2 L944.2,910.4 L946.0,906.5 L947.8,902.6 L949.6,898.6 L951.3,894.5 L953.0,890.4 L954.8,886.2 L956.4,882.1 L958.1,878.1 L959.7,874.0 L961.4,870.0 L962.9,865.9 L964.5,861.6 L966.1,857.3 L967.6,853.0 L969.1,848.6 L970.6,844.3 L972.0,839.9 L973.4,835.6 L974.8,831.3 L976.2,827.0 L977.6,822.8 L978.9,818.7 L980.2,814.6 L981.4,810.7 L982.7,806.8 L983.9,803.0 L985.1,799.4 L986.2,795.8 L987.4,792.4 L988.5,789.1 L989.5,785.9 L990.6,782.9 L991.6,780.0 L992.5,777.2 L993.5,774.5 L994.4,772.0 L995.3,769.6 L996.1,767.3 L996.9,765.2 L997.7,763.2 L998.4,761.3 L999.1,759.5 L999.7,757.9 L1000.3,756.4 L1000.9,755.0 L1001.4,753.8 L1001.8,752.7 L1002.2,751.7 L1002.5,750.9 L1002.8,750.3 L1003.0,749.9 L1003.0,749.7 L1003.2,749.3 L1003.5,748.7 L1003.8,747.9 L1004.2,747.0 L1004.6,745.9 L1005.1,744.8 L1005.7,743.5 L1006.3,742.2 L1006.9,740.8 L1007.6,739.3 L1008.3,737.7 L1009.1,736.1 L1009.9,734.4 L1010.7,732.7 L1011.6,731.0 L1012.5,729.2 L1013.5,727.4 L1014.4,725.5 L1015.4,723.7 L1016.5,721.8 L1017.5,719.9 L1018.6,718.0 L1019.8,716.0 L1020.9,714.1 L1022.1,712.1 L1023.3,710.2 L1024.6,708.2 L1025.8,706.2 L1027.1,704.1 L1028.4,702.1 L1029.8,700.0 L1031.2,697.9 L1032.6,695.9 L1034.0,693.8 L1035.4,691.7 L1036.9,689.7 L1038.4,687.7 L1039.9,685.6 L1041.5,683.7 L1043.1,681.7 L1044.6,679.8 L1046.3,677.8 L1047.9,676.0 L1049.6,674.1 L1051.2,672.2 L1053.0,670.4 L1054.7,668.6 L1056.4,666.8 L1058.2,665.0 L1060.0,663.2 L1061.8,661.4 L1063.7,659.6 L1065.5,657.8 L1067.4,656.0 L1069.3,654.2 L1071.2,652.3 L1073.2,650.5 L1075.1,648.7 L1077.1,646.8 L1079.1,645.0 L1081.1,643.2 L1083.2,641.3 L1085.2,639.5 L1087.3,637.6 L1089.4,635.8 L1091.6,633.9 L1093.7,632.0 L1095.9,630.1 L1098.0,628.3 L1100.2,626.4 L1102.4,624.5 L1104.7,622.6 L1106.9,620.8 L1109.2,618.9 L1111.5,617.0 L1113.8,615.1 L1116.1,613.2 L1118.5,611.3 L1120.8,609.4 L1123.2,607.5 L1125.6,605.7 L1128.0,603.9 L1130.5,602.1 L1132.9,600.3 L1135.4,598.6 L1137.9,596.9 L1140.4,595.2 L1142.9,593.5 L1145.4,591.8 L1148.0,590.1 L1150.6,588.5 L1153.1,586.8 L1155.7,585.2 L1158.4,583.5 L1161.0,581.9 L1163.7,580.3 L1166.3,578.7 L1169.0,577.1 L1171.7,575.4 L1174.5,573.8 L1177.2,572.2 L1179.9,570.6 L1182.7,569.0 L1185.5,567.4 L1188.3,565.8 L1191.1,564.3 L1194.0,562.8 L1196.8,561.3 L1199.7,559.9 L1202.6,558.4 L1205.5,557.0 L1208.4,555.6 L1211.3,554.1 L1214.2,552.7 L1217.2,551.3 L1220.2,549.9 L1223.2,548.6 L1226.2,547.2 L1229.2,545.9 L1232.2,544.6 L1235.3,543.4 L1238.3,542.1 L1241.4,540.8 L1244.5,539.5 L1247.6,538.2 L1250.8,537.0 L1253.9,535.8 L1257.1,534.5 L1260.2,533.3 L1263.4,532.0 L1266.6,530.7 L1269.8,529.4 L1273.1,528.1 L1276.3,526.8 L1279.6,525.5 L1282.8,524.2 L1286.1,522.9 L1289.4,521.5 L1292.7,520.2 L1296.1,518.8 L1299.4,517.3 L1302.8,515.8 L1306.1,514.3 L1309.5,512.8 L1312.9,511.3 L1316.3,509.8 L1319.8,508.4 L1323.2,506.9 L1326.7,505.4 L1330.1,504.0 L1333.6,502.5 L1337.1,501.1 L1340.6,499.7 L1344.2,498.3 L1347.7,497.0 L1351.3,495.6 L1354.8,494.4 L1358.4,493.1 L1362.0,491.9 L1365.6,490.7 L1369.2,489.5 L1372.9,488.3 L1376.5,487.1 L1380.2,486.0 L1383.9,484.9 L1387.5,483.8 L1391.2,482.8 L1395.0,481.8 L1398.7,480.8 L1402.4,479.8 L1406.2,478.9 L1410.0,478.0 L1413.7,477.1 L1417.5,476.2 L1421.3,475.3 L1425.2,474.4 L1429.0,473.6 L1432.8,472.8 L1436.7,472.0 L1440.6,471.2 L1444.5,470.4 L1448.3,469.6 L1452.3,468.9 L1456.2,468.1 L1460.1,467.4 L1464.1,466.7 L1468.0,466.0 L1472.0,465.4 L1476.0,464.7 L1480.0,464.1 L1484.0,463.5 L1488.0,462.9 L1492.1,462.3 L1496.1,461.7 L1500.2,461.1 L1504.3,460.6 L1508.3,460.0 L1512.4,459.5 L1516.6,459.0 L1520.7,458.5 L1524.8,458.0 L1529.0,457.5 L1533.1,457.0 L1537.3,456.5 L1541.5,456.1 L1545.7,455.6 L1549.9,455.2 L1554.1,454.8 L1558.4,454.3 L1562.6,453.9 L1566.9,453.5 L1571.1,453.1 L1575.4,452.7 L1579.7,452.3 L1584.0,451.9 L1588.3,451.6 L1592.7,451.2 L1597.0,450.8 L1601.4,450.5 L1605.7,450.1 L1610.1,449.8 L1614.5,449.4 L1618.9,449.1 L1623.3,448.7 L1627.8,448.4 L1632.2,448.0 L1636.6,447.7 L1641.1,447.3 L1645.6,447.0 L1650.1,446.7 L1654.6,446.3 L1659.1,446.0 L1663.6,445.7 L1668.1,445.4 L1672.7,445.1 L1677.2,444.7 L1681.8,444.4 L1686.4,444.1 L1691.0,443.8 L1695.6,443.5 L1700.2,443.1 L1704.8,442.8 L1709.4,442.5 L1714.1,442.2 L1718.7,441.9 L1723.4,441.6 L1728.1,441.3 L1732.8,441.0 L1737.5,440.8"/>
<path filter="url(#pen)" stroke="#008000" d="M268.5,1488.1 L273.2,1488.2 L277.9,1488.2 L282.6,1488.1 L287.3,1488.0 L291.9,1487.8 L296.6,1487.5 L301.2,1487.2 L305.8,1486.9 L310.4,1486.6 L315.0,1486.3 L319.6,1486.0 L324.2,1485.7 L328.8,1485.5 L333.3,1485.3 L337.9,1485.0 L342.4,1484.7 L346.9,1484.5 L351.4,1484.2 L355.9,1483.9 L360.4,1483.6 L364.9,1483.3 L369.4,1483.0 L373.8,1482.7 L378.2,1482.4 L382.7,1482.1 L387.1,1481.8 L391.5,1481.5 L395.9,1481.2 L400.3,1480.8 L404.6,1480.5 L409.0,1480.1 L413.3,1479.7 L417.7,1479.2 L422.0,1478.8 L426.3,1478.3 L430.6,1477.8 L434.9,1477.2 L439.1,1476.7 L443.4,1476.1 L447.6,1475.5 L451.9,1474.9 L456.1,1474.3 L460.3,1473.6 L464.5,1473.0 L468.7,1472.3 L472.9,1471.5 L477.0,1470.8 L481.2,1470.0 L485.3,1469.2 L489.4,1468.3 L493.6,1467.4 L497.7,1466.5 L501.7,1465.6 L505.8,1464.6 L509.9,1463.6 L513.9,1462.6 L518.0,1461.5 L522.0,1460.4 L526.0,1459.2 L530.0,1458.0 L534.0,1456.7 L538.0,1455.3 L541.9,1453.9 L545.9,1452.5 L549.8,1451.0 L553.7,1449.5 L557.7,1447.8 L561.5,1446.2 L565.4,1444.4 L569.3,1442.6 L573.2,1440.7 L577.0,1438.7 L580.8,1436.7 L584.7,1434.6 L588.5,1432.4 L592.3,1430.2 L596.0,1428.0 L599.8,1425.6 L603.6,1423.2 L607.3,1420.8 L611.0,1418.2 L614.8,1415.5 L618.5,1412.9 L622.1,1410.1 L625.8,1407.4 L629.5,1404.7 L633.1,1402.0 L636.8,1399.2 L640.4,1396.3 L644.0,1393.4 L647.6,1390.4 L651.2,1387.4 L654.7,1384.3 L658.3,1381.2 L661.8,1378.0 L665.4,1374.8 L668.9,1371.6 L672.4,1368.4 L675.9,1365.1 L679.3,1361.8 L682.8,1358.3 L686.2,1354.8 L689.7,1351.2 L693.1,1347.5 L696.5,1343.8 L699.9,1340.0 L703.2,1336.2 L706.6,1332.4 L709.9,1328.5 L713.3,1324.6 L716.6,1320.6 L719.9,1316.6 L723.2,1312.5 L726.4,1308.4 L729.7,1304.3 L732.9,1300.1 L736.2,1295.9 L739.4,1291.7 L742.6,1287.5 L745.8,1283.2 L748.9,1278.9 L752.1,1274.5 L755.2,1270.2 L758.4,1265.8 L761.5,1261.3 L764.6,1256.9 L767.7,1252.5 L770.7,1248.0 L773.8,1243.5 L776.8,1239.0 L779.8,1234.6 L782.8,1230.1 L785.8,1225.5 L788.8,1221.0 L791.8,1216.5 L794.7,1211.9 L797.6,1207.4 L800.5,1202.9 L803.4,1198.4 L806.3,1193.9 L809.2,1189.4 L812.0,1185.0 L814.9,1180.6 L817.7,1176.2 L820.5,1171.9 L823.3,1167.5 L826.1,1163.2 L828.8,1158.8 L831.5,1154.5 L834.3,1150.2 L837.0,1145.8 L839.7,1141.5 L842.3,1137.3 L845.0,1133.0 L847.6,1128.7 L850.3,1124.5 L852.9,1120.3 L855.4,1116.1 L858.0,1111.8 L860.6,1107.7 L863.1,1103.5 L865.6,1099.3 L868.1,1095.1 L870.6,1091.0 L873.1,1086.8 L875.5,1082.7 L878.0,1078.5 L880.4,1074.4 L882.8,1070.2 L885.2,1066.0 L887.5,1061.8 L889.9,1057.6 L892.2,1053.4 L894.5,1049.3 L896.8,1045.2 L899.1,1041.1 L901.3,1037.0 L903.6,1032.9 L905.8,1028.8 L908.0,1024.7 L910.1,1020.7 L912.3,1016.7 L914.4,1012.8 L916.6,1008.9 L918.7,1005.0 L920.8,1001.2 L922.8,997.4 L924.9,993.7 L926.9,989.9 L928.9,986.2 L930.9,982.5 L932.8,978.9 L934.8,975.3 L936.7,971.7 L938.6,968.1 L940.5,964.6 L942.3,961.1 L944.2,957.7 L946.0,954.3 L947.8,950.9 L949.6,947.5 L951.3,944.2 L953.0,940.9 L954.8,937.7 L956.4,934.4 L958.1,931.2 L959.7,928.1 L961.4,924.9 L962.9,921.8 L964.5,918.7 L966.1,915.7 L967.6,912.7 L969.1,909.8 L970.6,907.1 L972.0,904.4 L973.4,901.8 L974.8,899.2 L976.2,896.6 L977.6,893.9 L978.9,891.3 L980.2,888.6 L981.4,886.0 L982.7,883.4 L983.9,880.9 L985.1,878.3 L986.2,875.8 L987.4,873.3 L988.5,870.9 L989.5,868.5 L990.6,866.1 L991.6,863.8 L992.5,861.6 L993.5,859.3 L994.4,857.2 L995.3,855.1 L996.1,853.1 L996.9,851.1 L997.7,849.2 L998.4,847.4 L999.1,845.7 L999.7,844.1 L1000.3,842.6 L1000.9,841.2 L1001.4,839.9 L1001.8,838.7 L1002.2,837.7 L1002.5,836.8 L1002.8,836.1 L1003.0,835.7 L1003.0,835.5 L1003.2,835.1 L1003.5,834.4 L1003.8,833.5 L1004.2,832.5 L1004.6,831.3 L1005.1,830.0 L1005.7,828.5 L1006.3,827.0 L1006.9,825.3 L1007.6,823.5 L1008.3,821.6 L1009.1,819.6 L1009.9,817.5 L1010.7,815.3 L1011.6,813.0 L1012.5,810.6 L1013.5,808.1 L1014.4,805.6 L1015.4,802.9 L1016.5,800.2 L1017.5,797.4 L1018.6,794.6 L1019.8,791.6 L1020.9,788.6 L1022.1,785.5 L1023.3,782.4 L1024.6,779.1 L1025.8,775.9 L1027.1,772.5 L1028.4,769.1 L1029.8,765.7 L1031.2,762.2 L1032.6,758.6 L1034.0,755.0 L1035.4,751.3 L1036.9,747.6 L1038.4,743.9 L1039.9,740.1 L1041.5,736.3 L1043.1,732.5 L1044.6,728.6 L1046.3,724.7 L1047.9,720.8 L1049.6,716.9 L1051.2,712.9 L1053.0,708.9 L1054.7,704.9 L1056.4,700.8 L1058.2,696.7 L1060.0,692.6 L1061.8,688.5 L1063.7,684.3 L1065.5,680.1 L1067.4,675.9 L1069.3,671.6 L1071.2,667.4 L1073.2,663.2 L1075.1,658.9 L1077.1,654.6 L1079.1,650.3 L1081.1,646.0 L1083.2,641.7 L1085.2,637.4 L1087.3,633.1 L1089.4,628.7 L1091.6,624.4 L1093.7,620.1 L1095.9,615.8 L1098.0,611.4 L1100.2,607.1 L1102.4,602.7 L1104.7,598.4 L1106.9,594.0 L1109.2,589.7 L1111.5,585.3 L1113.8,581.0 L1116.1,576.6 L1118.5,572.3 L1120.8,567.9 L1123.2,563.6 L1125.6,559.2 L1128.0,554.8 L1130.5,550.4 L1132.9,546.1 L1135.4,541.7 L1137.9,537.2 L1140.4,532.8 L1142.9,528.4 L1145.4,524.0 L1148.0,519.6 L1150.6,515.1 L1153.1,510.7 L1155.7,506.2 L1158.4,501.8 L1161.0,497.3 L1163.7,492.8 L1166.3,488.4 L1169.0,483.9 L1171.7,479.4 L1174.5,474.9 L1177.2,470.4 L1179.9,465.9 L1182.7,461.4 L1185.5,457.0 L1188.3,452.5 L1191.1,448.0 L1194.0,443.5 L1196.8,439.0 L1199.7,434.5 L1202.6,430.0 L1205.5,425.5 L1208.4,421.1 L1211.3,416.6 L1214.2,412.1 L1217.2,407.7 L1220.2,403.2 L1223.2,398.8 L1226.2,394.4 L1229.2,390.0 L1232.2,385.6 L1235.3,381.2 L1238.3,376.8 L1241.4,372.5 L1244.5,368.2 L1247.6,363.9 L1250.8,359.6 L1253.9,355.3 L1257.1,351.1 L1260.2,346.9 L1263.4,342.7 L1266.6,338.6 L1269.8,334.4 L1273.1,330.3 L1276.3,326.3 L1279.6,322.2 L1282.8,318.2 L1286.1,314.3 L1289.4,310.4 L1292.7,306.5 L1296.1,302.6 L1299.4,298.9 L1302.8,295.1 L1306.1,291.5 L1309.5,287.8 L1312.9,284.1 L1316.3,280.5 L1319.8,276.9 L1323.2,273.3 L1326.7,269.7 L1330.1,266.2 L1333.6,262.7 L1337.1,259.3 L1340.6,255.9 L1344.2,252.6 L1347.7,249.2 L1351.3,245.9 L1354.8,242.6 L1358.4,239.3 L1362.0,236.1 L1365.6,232.9 L1369.2,229.9 L1372.9,226.9 L1376.5,223.9 L1380.2,221.0 L1383.9,218.1 L1387.5,215.3 L1391.2,212.6 L1395.0,210.0 L1398.7,207.4 L1402.4,204.9 L1406.2,202.5 L1410.0,200.1 L1413.7,197.7 L1417.5,195.5 L1421.3,193.3 L1425.2,191.2 L1429.0,189.1 L1432.8,187.1 L1436.7,185.2 L1440.6,183.3 L1444.5,181.5 L1448.3,179.8 L1452.3,178.1 L1456.2,176.5 L1460.1,174.9 L1464.1,173.4 L1468.0,171.9 L1472.0,170.5 L1476.0,169.1 L1480.0,167.8 L1484.0,166.5 L1488.0,165.3 L1492.1,164.1 L1496.1,163.0 L1500.2,161.9 L1504.3,160.9 L1508.3,159.9 L1512.4,158.9 L1516.6,158.0 L1520.7,157.1 L1524.8,156.2 L1529.0,155.4 L1533.1,154.6 L1537.3,153.9 L1541.5,153.1 L1545.7,152.4 L1549.9,151.8 L1554.1,151.2 L1558.4,150.6 L1562.6,150.0 L1566.9,149.5 L1571.1,149.0 L1575.4,148.5 L1579.7,148.0 L1584.0,147.5 L1588.3,147.1 L1592.7,146.6 L1597.0,146.2 L1601.4,145.8 L1605.7,145.4 L1610.1,145.1 L1614.5,144.7 L1618.9,144.4 L1623.3,144.1 L1627.8,143.8 L1632.2,143.5 L1636.6,143.2 L1641.1,142.9 L1645.6,142.6 L1650.1,142.3 L1654.6,142.0 L1659.1,141.7 L1663.6,141.4 L1668.1,141.2 L1672.7,140.9 L1677.2,140.7 L1681.8,140.5 L1686.4,140.2 L1691.0,140.0 L1695.6,139.7 L1700.2,139.4 L1704.8,139.1 L1709.4,138.8 L1714.1,138.6 L1718.7,138.4 L1723.4,138.3 L1728.1,138.2 L1732.8,138.2 L1737.5,138.2"/>
<path filter="url(#pen)" stroke="#008000" d="M268.5,1487.4 L273.2,1487.4 L277.9,1487.4 L282.6,1487.3 L287.3,1487.1 L291.9,1486.9 L296.6,1486.6 L301.2,1486.3 L305.8,1485.9 L310.4,1485.6 L315.0,1485.2 L319.6,1484.9 L324.2,1484.6 L328.8,1484.4 L333.3,1484.1 L337.9,1483.8 L342.4,1483.5 L346.9,1483.2 L351.4,1482.9 L355.9,1482.6 L360.4,1482.3 L364.9,1482.0 L369.4,1481.6 L373.8,1481.3 L378.2,1481.0 L382.7,1480.7 L387.1,1480.4 L391.5,1480.1 L395.9,1479.7 L400.3,1479.3 L404.6,1479.0 L409.0,1478.5 L413.3,1478.1 L417.7,1477.7 L422.0,1477.2 L426.3,1476.7 L430.6,1476.1 L434.9,1475.6 L439.1,1475.0 L443.4,1474.4 L447.6,1473.8 L451.9,1473.2 L456.1,1472.5 L460.3,1471.9 L464.5,1471.2 L468.7,1470.5 L472.9,1469.7 L477.0,1468.9 L481.2,1468.1 L485.3,1467.3 L489.4,1466.4 L493.6,1465.5 L497.7,1464.6 L501.7,1463.6 L505.8,1462.7 L509.9,1461.6 L513.9,1460.6 L518.0,1459.5 L522.0,1458.3 L526.0,1457.1 L530.0,1455.9 L534.0,1454.6 L538.0,1453.2 L541.9,1451.8 L545.9,1450.3 L549.8,1448.8 L553.7,1447.2 L557.7,1445.6 L561.5,1443.9 L565.4,1442.1 L569.3,1440.2 L573.2,1438.3 L577.0,1436.3 L580.8,1434.3 L584.7,1432.2 L588.5,1430.0 L592.3,1427.7 L596.0,1425.4 L599.8,1423.1 L603.6,1420.7 L607.3,1418.2 L611.0,1415.6 L614.8,1412.9 L618.5,1410.2 L622.1,1407.4 L625.8,1404.7 L629.5,1401.9 L633.1,1399.2 L636.8,1396.3 L640.4,1393.4 L644.0,1390.5 L647.6,1387.5 L651.2,1384.4 L654.7,1381.3 L658.3,1378.2 L661.8,1375.0 L665.4,1371.7 L668.9,1368.4 L672.4,1365.2 L675.9,1361.9 L679.3,1358.5 L682.8,1355.0 L686.2,1351.4 L689.7,1347.8 L693.1,1344.1 L696.5,1340.3 L699.9,1336.5 L703.2,1332.7 L706.6,1328.8 L709.9,1324.8 L713.3,1320.8 L716.6,1316.8 L719.9,1312.7 L723.2,1308.6 L726.4,1304.5 L729.7,1300.3 L732.9,1296.1 L736.2,1291.8 L739.4,1287.5 L742.6,1283.2 L745.8,1278.8 L748.9,1274.5 L752.1,1270.1 L755.2,1265.6 L758.4,1261.2 L761.5,1256.7 L764.6,1252.2 L767.7,1247.7 L770.7,1243.1 L773.8,1238.5 L776.8,1234.0 L779.8,1229.4 L782.8,1224.8 L785.8,1220.2 L788.8,1215.5 L791.8,1210.9 L794.7,1206.3 L797.6,1201.6 L800.5,1196.9 L803.4,1192.3 L806.3,1187.6 L809.2,1182.9 L812.0,1178.2 L814.9,1173.5 L817.7,1168.7 L820.5,1163.9 L823.3,1159.1 L826.1,1154.3 L828.8,1149.5 L831.5,1144.7 L834.3,1140.0 L837.0,1135.3 L839.7,1130.7 L842.3,1126.0 L845.0,1121.4 L847.6,1116.8 L850.3,1112.2 L852.9,1107.6 L855.4,1103.0 L858.0,1098.4 L860.6,1093.8 L863.1,1089.3 L865.6,1084.8 L868.1,1080.2 L870.6,1075.7 L873.1,1071.2 L875.5,1066.6 L878.0,1062.1 L880.4,1057.6 L882.8,1053.0 L885.2,1048.5 L887.5,1044.0 L889.9,1039.6 L892.2,1035.2 L894.5,1030.8 L896.8,1026.4 L899.1,1022.2 L901.3,1018.0 L903.6,1013.8 L905.8,1009.7 L908.0,1005.6 L910.1,1001.5 L912.3,997.5 L914.4,993.4 L916.6,989.4 L918.7,985.4 L920.8,981.4 L922.8,977.4 L924.9,973.4 L926.9,969.5 L928.9,965.6 L930.9,961.8 L932.8,957.9 L934.8,954.0 L936.7,950.2 L938.6,946.3 L940.5,942.5 L942.3,938.7 L944.2,934.9 L946.0,931.1 L947.8,927.3 L949.6,923.5 L951.3,919.8 L953.0,916.1 L954.8,912.4 L956.4,908.7 L958.1,905.0 L959.7,901.3 L961.4,897.6 L962.9,894.0 L964.5,890.4 L966.1,886.7 L967.6,883.1 L969.1,879.5 L970.6,876.0 L972.0,872.5 L973.4,869.0 L974.8,865.5 L976.2,862.1 L977.6,858.8 L978.9,855.4 L980.2,852.2 L981.4,848.9 L982.7,845.8 L983.9,842.7 L985.1,839.6 L986.2,836.6 L987.4,833.7 L988.5,830.9 L989.5,828.1 L990.6,825.4 L991.6,822.8 L992.5,820.2 L993.5,817.8 L994.4,815.4 L995.3,813.1 L996.1,810.9 L996.9,808.8 L997.7,806.8 L998.4,804.9 L999.1,803.1 L999.7,801.5 L1000.3,799.9 L1000.9,798.5 L1001.4,797.2 L1001.8,796.0 L1002.2,795.0 L1002.5,794.1 L1002.8,793.4 L1003.0,793.0 L1003.0,792.8 L1003.2,792.4 L1003.5,791.7 L1003.8,790.8 L1004.2,789.8 L1004.6,788.7 L1005.1,787.4 L1005.7,786.0 L1006.3,784.5 L1006.9,782.9 L1007.6,781.2 L1008.3,779.4 L1009.1,777.5 L1009.9,775.6 L1010.7,773.5 L1011.6,771.4 L1012.5,769.3 L1013.5,767.1 L1014.4,764.8 L1015.4,762.5 L1016.5,760.1 L1017.5,757.7 L1018.6,755.3 L1019.8,752.8 L1020.9,750.2 L1022.1,747.6 L1023.3,745.0 L1024.6,742.3 L1025.8,739.6 L1027.1,736.9 L1028.4,734.1 L1029.8,731.3 L1031.2,728.5 L1032.6,725.6 L1034.0,722.8 L1035.4,719.8 L1036.9,716.9 L1038.4,713.9 L1039.9,710.9 L1041.5,707.9 L1043.1,704.8 L1044.6,701.7 L1046.3,698.5 L1047.9,695.2 L1049.6,691.8 L1051.2,688.3 L1053.0,684.7 L1054.7,681.0 L1056.4,677.4 L1058.2,673.7 L1060.0,669.9 L1061.8,666.2 L1063.7,662.3 L1065.5,658.5 L1067.4,654.6 L1069.3,650.7 L1071.2,646.8 L1073.2,642.9 L1075.1,639.0 L1077.1,635.1 L1079.1,631.2 L1081.1,627.3 L1083.2,623.3 L1085.2,619.4 L1087.3,615.4 L1089.4,611.4 L1091.6,607.4 L1093.7,603.4 L1095.9,599.4 L1098.0,595.4 L1100.2,591.4 L1102.4,587.4 L1104.7,583.4 L1106.9,579.4 L1109.2,575.4 L1111.5,571.3 L1113.8,567.3 L1116.1,563.2 L1118.5,559.1 L1120.8,555.0 L1123.2,551.0 L1125.6,546.9 L1128.0,542.8 L1130.5,538.7 L1132.9,534.5 L1135.4,530.4 L1137.9,526.2 L1140.4,522.0 L1142.9,517.8 L1145.4,513.6 L1148.0,509.4 L1150.6,505.2 L1153.1,501.0 L1155.7,496.7 L1158.4,492.5 L1161.0,488.2 L1163.7,483.9 L1166.3,479.6 L1169.0,475.3 L1171.7,471.0 L1174.5,466.7 L1177.2,462.4 L1179.9,458.1 L1182.7,453.7 L1185.5,449.4 L1188.3,445.1 L1191.1,440.7 L1194.0,436.4 L1196.8,432.0 L1199.7,427.7 L1202.6,423.3 L1205.5,419.0 L1208.4,414.7 L1211.3,410.3 L1214.2,406.0 L1217.2,401.6 L1220.2,397.3 L1223.2,393.0 L1226.2,388.7 L1229.2,384.4 L1232.2,380.1 L1235.3,375.8 L1238.3,371.6 L1241.4,367.3 L1244.5,363.1 L1247.6,358.9 L1250.8,354.7 L1253.9,350.5 L1257.1,346.4 L1260.2,342.3 L1263.4,338.2 L1266.6,334.1 L1269.8,330.0 L1273.1,326.0 L1276.3,322.0 L1279.6,318.1 L1282.8,314.2 L1286.1,310.3 L1289.4,306.4 L1292.7,302.6 L1296.1,298.9 L1299.4,295.2 L1302.8,291.5 L1306.1,287.9 L1309.5,284.3 L1312.9,280.7 L1316.3,277.1 L1319.8,273.5 L1323.2,270.0 L1326.7,266.5 L1330.1,263.0 L1333.6,259.6 L1337.1,256.2 L1340.6,252.8 L1344.2,249.5 L1347.7,246.2 L1351.3,242.9 L1354.8,239.6 L1358.4,236.4 L1362.0,233.2 L1365.6,230.1 L1369.2,227.0 L1372.9,224.1 L1376.5,221.1 L1380.2,218.2 L1383.9,215.4 L1387.5,212.6 L1391.2,210.0 L1395.0,207.3 L1398.7,204.8 L1402.4,202.3 L1406.2,199.9 L1410.0,197.6 L1413.7,195.3 L1417.5,193.0 L1421.3,190.9 L1425.2,188.8 L1429.0,186.7 L1432.8,184.7 L1436.7,182.8 L1440.6,181.0 L1444.5,179.2 L1448.3,177.5 L1452.3,175.9 L1456.2,174.3 L1460.1,172.7 L1464.1,171.2 L1468.0,169.8 L1472.0,168.4 L1476.0,167.0 L1480.0,165.7 L1484.0,164.5 L1488.0,163.3 L1492.1,162.1 L1496.1,161.0 L1500.2,160.0 L1504.3,158.9 L1508.3,157.9 L1512.4,157.0 L1516.6,156.1 L1520.7,155.2 L1524.8,154.4 L1529.0,153.6 L1533.1,152.8 L1537.3,152.1 L1541.5,151.4 L1545.7,150.7 L1549.9,150.0 L1554.1,149.4 L1558.4,148.9 L1562.6,148.3 L1566.9,147.8 L1571.1,147.3 L1575.4,146.8 L1579.7,146.4 L1584.0,145.9 L1588.3,145.5 L1592.7,145.1 L1597.0,144.7 L1601.4,144.3 L1605.7,143.9 L1610.1,143.6 L1614.5,143.3 L1618.9,143.0 L1623.3,142.7 L1627.8,142.4 L1632.2,142.1 L1636.6,141.8 L1641.1,141.6 L1645.6,141.3 L1650.1,141.0 L1654.6,140.7 L1659.1,140.5 L1663.6,140.2 L1668.1,140.0 L1672.7,139.8 L1677.2,139.6 L1681.8,139.4 L1686.4,139.2 L1691.0,138.9 L1695.6,138.7 L1700.2,138.4 L1704.8,138.2 L1709.4,137.9 L1714.1,137.7 L1718.7,137.6 L1723.4,137.4 L1728.1,137.4 L1732.8,137.4 L1737.5,137.5"/>
</g>
<path stroke="#b010d8" stroke-width="4" fill="none" d="M267,820L1739,815"/>
<rect x="650" y="162" width="645" height="97" fill="#fff"/>
<g id="inset">
<rect x="1149.1" y="928.5" width="487.4" height="486" fill="#fff" stroke="none"/>
<g stroke="#000" stroke-width="5" fill="none">
<rect x="1149.1" y="928.5" width="487.4" height="486"/>
<path d="M1270.9,928.5V944M1270.9,1414.5V1399"/>
<path d="M1392.8,928.5V944M1392.8,1414.5V1399"/>
<path d="M1514.6,928.5V944M1514.6,1414.5V1399"/>
<path d="M1149.1,1050H1164.5M1636.5,1050H1621"/>
<path d="M1149.1,1171.5H1164.5M1636.5,1171.5H1621"/>
<path d="M1149.1,1293H1164.5M1636.5,1293H1621"/>
<path d="M1147,1172.1H1638" stroke="#b010d8" stroke-width="5.8"/>
<path d="M1392.5,940.1V1412" stroke-dasharray="8.7 8.6"/>
<path d="M1157.8,1172.1H1634" stroke-width="5.8" stroke-dasharray="9.1 8.1"/>
</g>
<g fill="none" stroke-width="3" stroke-linejoin="round" clip-path="url(#ci)">
<path filter="url(#pen)" stroke="#0000cd" d="M1136.9,1341.5 L1137.0,1341.5 L1138.5,1341.3 L1139.9,1341.1 L1141.4,1340.9 L1142.8,1340.8 L1144.3,1340.6 L1145.7,1340.4 L1147.1,1340.2 L1148.5,1340.0 L1150.0,1339.8 L1151.4,1339.6 L1152.8,1339.4 L1154.2,1339.2 L1155.6,1339.1 L1157.0,1338.9 L1158.4,1338.7 L1159.8,1338.5 L1161.2,1338.3 L1162.6,1338.1 L1164.0,1337.9 L1165.4,1337.7 L1166.8,1337.5 L1168.2,1337.3 L1169.5,1337.1 L1170.9,1336.8 L1172.3,1336.6 L1173.7,1336.4 L1175.0,1336.2 L1176.4,1336.0 L1177.7,1335.8 L1179.1,1335.6 L1180.5,1335.4 L1181.8,1335.2 L1183.1,1334.9 L1184.5,1334.7 L1185.8,1334.5 L1187.2,1334.3 L1188.5,1334.1 L1189.8,1333.8 L1191.2,1333.6 L1192.5,1333.4 L1193.8,1333.2 L1195.1,1332.9 L1196.4,1332.7 L1197.7,1332.5 L1199.0,1332.2 L1200.3,1332.0 L1201.6,1331.8 L1202.9,1331.5 L1204.2,1331.3 L1205.5,1331.0 L1206.8,1330.8 L1208.1,1330.6 L1209.4,1330.3 L1210.7,1330.1 L1211.9,1329.8 L1213.2,1329.6 L1214.5,1329.3 L1215.7,1329.1 L1217.0,1328.8 L1218.3,1328.6 L1219.5,1328.3 L1220.8,1328.0 L1222.0,1327.8 L1223.2,1327.5 L1224.5,1327.3 L1225.7,1327.0 L1227.0,1326.7 L1228.2,1326.5 L1229.4,1326.2 L1230.6,1326.0 L1231.9,1325.7 L1233.1,1325.4 L1234.3,1325.2 L1235.5,1324.9 L1236.7,1324.6 L1237.9,1324.4 L1239.1,1324.1 L1240.3,1323.8 L1241.5,1323.5 L1242.7,1323.3 L1243.9,1323.0 L1245.0,1322.7 L1246.2,1322.4 L1247.4,1322.2 L1248.6,1321.9 L1249.7,1321.6 L1250.9,1321.3 L1252.0,1321.0 L1253.2,1320.7 L1254.4,1320.5 L1255.5,1320.2 L1256.6,1319.9 L1257.8,1319.6 L1258.9,1319.3 L1260.1,1319.0 L1261.2,1318.7 L1262.3,1318.4 L1263.4,1318.1 L1264.6,1317.8 L1265.7,1317.5 L1266.8,1317.2 L1267.9,1316.9 L1269.0,1316.5 L1270.1,1316.2 L1271.2,1315.9 L1272.3,1315.6 L1273.4,1315.3 L1274.5,1315.0 L1275.6,1314.6 L1276.6,1314.3 L1277.7,1314.0 L1278.8,1313.7 L1279.9,1313.3 L1280.9,1313.0 L1282.0,1312.7 L1283.0,1312.3 L1284.1,1312.0 L1285.1,1311.7 L1286.2,1311.3 L1287.2,1311.0 L1288.3,1310.6 L1289.3,1310.3 L1290.3,1309.9 L1291.4,1309.6 L1292.4,1309.2 L1293.4,1308.9 L1294.4,1308.5 L1295.4,1308.2 L1296.4,1307.8 L1297.4,1307.4 L1298.4,1307.1 L1299.4,1306.7 L1300.4,1306.3 L1301.4,1306.0 L1302.4,1305.6 L1303.4,1305.2 L1304.3,1304.8 L1305.3,1304.5 L1306.3,1304.1 L1307.2,1303.7 L1308.2,1303.3 L1309.1,1302.9 L1310.1,1302.5 L1311.0,1302.1 L1312.0,1301.7 L1312.9,1301.3 L1313.9,1300.8 L1314.8,1300.4 L1315.7,1300.0 L1316.6,1299.6 L1317.6,1299.1 L1318.5,1298.7 L1319.4,1298.2 L1320.3,1297.8 L1321.2,1297.3 L1322.1,1296.9 L1323.0,1296.4 L1323.9,1295.9 L1324.7,1295.4 L1325.6,1295.0 L1326.5,1294.5 L1327.4,1294.0 L1328.2,1293.5 L1329.1,1293.0 L1330.0,1292.4 L1330.8,1291.9 L1331.7,1291.4 L1332.5,1290.9 L1333.3,1290.3 L1334.2,1289.8 L1335.0,1289.2 L1335.8,1288.7 L1336.7,1288.1 L1337.5,1287.5 L1338.3,1286.9 L1339.1,1286.4 L1339.9,1285.8 L1340.7,1285.2 L1341.5,1284.6 L1342.3,1284.0 L1343.1,1283.4 L1343.9,1282.8 L1344.6,1282.1 L1345.4,1281.5 L1346.2,1280.9 L1346.9,1280.3 L1347.7,1279.6 L1348.5,1279.0 L1349.2,1278.4 L1349.9,1277.7 L1350.7,1277.1 L1351.4,1276.5 L1352.1,1275.8 L1352.9,1275.2 L1353.6,1274.5 L1354.3,1273.9 L1355.0,1273.2 L1355.7,1272.6 L1356.4,1271.9 L1357.1,1271.3 L1357.8,1270.6 L1358.5,1269.9 L1359.2,1269.3 L1359.8,1268.6 L1360.5,1268.0 L1361.2,1267.3 L1361.8,1266.7 L1362.5,1266.0 L1363.1,1265.3 L1363.8,1264.7 L1364.4,1264.0 L1365.0,1263.3 L1365.7,1262.6 L1366.3,1262.0 L1366.9,1261.3 L1367.5,1260.6 L1368.1,1259.9 L1368.7,1259.3 L1369.3,1258.6 L1369.9,1257.9 L1370.5,1257.2 L1371.1,1256.5 L1371.6,1255.8 L1372.2,1255.1 L1372.8,1254.4 L1373.3,1253.7 L1373.9,1253.0 L1374.4,1252.3 L1375.0,1251.6 L1375.5,1250.9 L1376.0,1250.2 L1376.5,1249.5 L1377.0,1248.8 L1377.5,1248.0 L1378.0,1247.3 L1378.5,1246.6 L1379.0,1245.9 L1379.5,1245.1 L1380.0,1244.4 L1380.5,1243.7 L1380.9,1243.0 L1381.4,1242.2 L1381.8,1241.5 L1382.3,1240.8 L1382.7,1240.1 L1383.1,1239.4 L1383.5,1238.6 L1384.0,1237.9 L1384.4,1237.2 L1384.8,1236.5 L1385.2,1235.8 L1385.5,1235.1 L1385.9,1234.4 L1386.3,1233.7 L1386.6,1233.0 L1387.0,1232.3 L1387.3,1231.7 L1387.7,1231.0 L1388.0,1230.4 L1388.3,1229.7 L1388.6,1229.1 L1389.0,1228.5 L1389.2,1227.9 L1389.5,1227.3 L1389.8,1226.7 L1390.1,1226.1 L1390.3,1225.5 L1390.6,1225.0 L1390.8,1224.5 L1391.1,1224.0 L1391.3,1223.5 L1391.5,1223.0 L1391.7,1222.6 L1391.9,1222.2 L1392.0,1221.8 L1392.2,1221.4 L1392.3,1221.1 L1392.5,1220.8 L1392.6,1220.6 L1392.7,1220.3 L1392.7,1220.2 L1392.8,1220.1 L1392.8,1220.0 L1392.9,1219.9 L1392.9,1219.7 L1393.0,1219.5 L1393.1,1219.2 L1393.3,1218.9 L1393.4,1218.6 L1393.6,1218.2 L1393.7,1217.8 L1393.9,1217.4 L1394.1,1216.9 L1394.3,1216.4 L1394.5,1215.9 L1394.8,1215.4 L1395.0,1214.8 L1395.3,1214.2 L1395.5,1213.6 L1395.8,1212.9 L1396.1,1212.2 L1396.4,1211.5 L1396.6,1210.8 L1397.0,1210.1 L1397.3,1209.3 L1397.6,1208.5 L1397.9,1207.7 L1398.3,1206.8 L1398.6,1205.9 L1399.0,1205.0 L1399.3,1204.1 L1399.7,1203.2 L1400.1,1202.2 L1400.4,1201.2 L1400.8,1200.2 L1401.2,1199.1 L1401.6,1198.1 L1402.1,1197.0 L1402.5,1195.9 L1402.9,1194.7 L1403.3,1193.5 L1403.8,1192.4 L1404.2,1191.1 L1404.7,1189.9 L1405.1,1188.6 L1405.6,1187.3 L1406.1,1186.0 L1406.6,1184.7 L1407.1,1183.3 L1407.6,1181.9 L1408.1,1180.5 L1408.6,1179.0 L1409.1,1177.6 L1409.6,1176.1 L1410.1,1174.6 L1410.6,1173.0 L1411.2,1171.5 L1411.7,1169.9 L1412.3,1168.3 L1412.8,1166.7 L1413.4,1165.0 L1414.0,1163.4 L1414.5,1161.7 L1415.1,1160.0 L1415.7,1158.2 L1416.3,1156.5 L1416.9,1154.7 L1417.5,1153.0 L1418.1,1151.2 L1418.7,1149.4 L1419.3,1147.6 L1419.9,1145.7 L1420.6,1143.9 L1421.2,1142.0 L1421.8,1140.2 L1422.5,1138.3 L1423.1,1136.4 L1423.8,1134.5 L1424.4,1132.6 L1425.1,1130.7 L1425.8,1128.8 L1426.4,1126.9 L1427.1,1124.9 L1427.8,1123.0 L1428.5,1121.1 L1429.2,1119.2 L1429.9,1117.3 L1430.6,1115.3 L1431.3,1113.4 L1432.0,1111.5 L1432.7,1109.6 L1433.5,1107.7 L1434.2,1105.9 L1434.9,1104.0 L1435.7,1102.1 L1436.4,1100.3 L1437.1,1098.4 L1437.9,1096.6 L1438.7,1094.8 L1439.4,1093.0 L1440.2,1091.2 L1441.0,1089.5 L1441.7,1087.7 L1442.5,1086.0 L1443.3,1084.3 L1444.1,1082.7 L1444.9,1081.1 L1445.7,1079.4 L1446.5,1077.9 L1447.3,1076.3 L1448.1,1074.8 L1448.9,1073.3 L1449.8,1071.8 L1450.6,1070.4 L1451.4,1068.9 L1452.3,1067.5 L1453.1,1066.2 L1453.9,1064.8 L1454.8,1063.5 L1455.6,1062.2 L1456.5,1061.0 L1457.4,1059.7 L1458.2,1058.5 L1459.1,1057.3 L1460.0,1056.1 L1460.9,1055.0 L1461.7,1053.9 L1462.6,1052.8 L1463.5,1051.7 L1464.4,1050.6 L1465.3,1049.6 L1466.2,1048.5 L1467.1,1047.5 L1468.0,1046.6 L1469.0,1045.6 L1469.9,1044.7 L1470.8,1043.7 L1471.7,1042.9 L1472.7,1042.0 L1473.6,1041.1 L1474.6,1040.3 L1475.5,1039.5 L1476.5,1038.7 L1477.4,1037.9 L1478.4,1037.2 L1479.3,1036.4 L1480.3,1035.7 L1481.3,1035.0 L1482.2,1034.3 L1483.2,1033.6 L1484.2,1032.9 L1485.2,1032.3 L1486.2,1031.7 L1487.2,1031.0 L1488.2,1030.4 L1489.2,1029.8 L1490.2,1029.2 L1491.2,1028.7 L1492.2,1028.1 L1493.2,1027.5 L1494.2,1027.0 L1495.3,1026.5 L1496.3,1025.9 L1497.3,1025.4 L1498.4,1024.9 L1499.4,1024.4 L1500.5,1023.9 L1501.5,1023.4 L1502.6,1022.9 L1503.6,1022.5 L1504.7,1022.0 L1505.7,1021.5 L1506.8,1021.1 L1507.9,1020.6 L1509.0,1020.2 L1510.0,1019.7 L1511.1,1019.3 L1512.2,1018.8 L1513.3,1018.4 L1514.4,1018.0 L1515.5,1017.5 L1516.6,1017.1 L1517.7,1016.7 L1518.8,1016.3 L1519.9,1015.9 L1521.0,1015.5 L1522.2,1015.1 L1523.3,1014.7 L1524.4,1014.3 L1525.5,1013.9 L1526.7,1013.5 L1527.8,1013.1 L1529.0,1012.7 L1530.1,1012.3 L1531.2,1012.0 L1532.4,1011.6 L1533.6,1011.2 L1534.7,1010.9 L1535.9,1010.5 L1537.0,1010.2 L1538.2,1009.8 L1539.4,1009.5 L1540.6,1009.1 L1541.7,1008.8 L1542.9,1008.5 L1544.1,1008.1 L1545.3,1007.8 L1546.5,1007.5 L1547.7,1007.2 L1548.9,1006.9 L1550.1,1006.6 L1551.3,1006.2 L1552.5,1005.9 L1553.7,1005.6 L1555.0,1005.3 L1556.2,1005.0 L1557.4,1004.7 L1558.6,1004.4 L1559.9,1004.1 L1561.1,1003.8 L1562.4,1003.5 L1563.6,1003.2 L1564.8,1003.0 L1566.1,1002.7 L1567.3,1002.4 L1568.6,1002.1 L1569.9,1001.8 L1571.1,1001.5 L1572.4,1001.3 L1573.7,1001.0 L1574.9,1000.7 L1576.2,1000.5 L1577.5,1000.2 L1578.8,1000.0 L1580.1,999.7 L1581.4,999.4 L1582.7,999.2 L1584.0,999.0 L1585.3,998.7 L1586.6,998.5 L1587.9,998.2 L1589.2,998.0 L1590.5,997.8 L1591.8,997.6 L1593.1,997.4 L1594.4,997.1 L1595.8,996.9 L1597.1,996.7 L1598.4,996.5 L1599.8,996.3 L1601.1,996.1 L1602.5,995.9 L1603.8,995.7 L1605.1,995.5 L1606.5,995.3 L1607.9,995.1 L1609.2,994.9 L1610.6,994.7 L1611.9,994.5 L1613.3,994.3 L1614.7,994.1 L1616.1,993.9 L1617.4,993.7 L1618.8,993.5 L1620.2,993.4 L1621.6,993.2 L1623.0,993.0 L1624.4,992.8 L1625.8,992.6 L1627.2,992.4 L1628.6,992.3 L1630.0,992.1 L1631.4,991.9 L1632.8,991.7 L1634.2,991.6 L1635.6,991.4 L1637.1,991.2 L1638.5,991.0 L1639.9,990.9 L1641.3,990.7 L1642.8,990.5 L1644.2,990.4 L1645.7,990.2 L1647.1,990.0 L1648.6,989.9 L1648.7,989.9"/>
<path filter="url(#pen)" stroke="#0000cd" d="M1136.9,1340.7 L1137.0,1340.7 L1138.5,1340.5 L1139.9,1340.4 L1141.4,1340.2 L1142.8,1340.0 L1144.3,1339.8 L1145.7,1339.7 L1147.1,1339.5 L1148.5,1339.3 L1150.0,1339.1 L1151.4,1338.9 L1152.8,1338.8 L1154.2,1338.6 L1155.6,1338.4 L1157.0,1338.2 L1158.4,1338.0 L1159.8,1337.8 L1161.2,1337.6 L1162.6,1337.5 L1164.0,1337.3 L1165.4,1337.1 L1166.8,1336.9 L1168.2,1336.7 L1169.5,1336.5 L1170.9,1336.3 L1172.3,1336.1 L1173.7,1335.9 L1175.0,1335.7 L1176.4,1335.5 L1177.7,1335.3 L1179.1,1335.1 L1180.5,1334.9 L1181.8,1334.7 L1183.1,1334.5 L1184.5,1334.3 L1185.8,1334.1 L1187.2,1333.9 L1188.5,1333.6 L1189.8,1333.4 L1191.2,1333.2 L1192.5,1333.0 L1193.8,1332.8 L1195.1,1332.6 L1196.4,1332.4 L1197.7,1332.1 L1199.0,1331.9 L1200.3,1331.7 L1201.6,1331.5 L1202.9,1331.3 L1204.2,1331.0 L1205.5,1330.8 L1206.8,1330.6 L1208.1,1330.4 L1209.4,1330.1 L1210.7,1329.9 L1211.9,1329.7 L1213.2,1329.4 L1214.5,1329.2 L1215.7,1329.0 L1217.0,1328.7 L1218.3,1328.5 L1219.5,1328.3 L1220.8,1328.0 L1222.0,1327.8 L1223.2,1327.5 L1224.5,1327.3 L1225.7,1327.0 L1227.0,1326.8 L1228.2,1326.5 L1229.4,1326.3 L1230.6,1326.0 L1231.9,1325.8 L1233.1,1325.5 L1234.3,1325.2 L1235.5,1325.0 L1236.7,1324.7 L1237.9,1324.4 L1239.1,1324.1 L1240.3,1323.9 L1241.5,1323.6 L1242.7,1323.3 L1243.9,1323.0 L1245.0,1322.7 L1246.2,1322.4 L1247.4,1322.1 L1248.6,1321.8 L1249.7,1321.5 L1250.9,1321.2 L1252.0,1320.9 L1253.2,1320.6 L1254.4,1320.3 L1255.5,1320.0 L1256.6,1319.7 L1257.8,1319.3 L1258.9,1319.0 L1260.1,1318.7 L1261.2,1318.3 L1262.3,1318.0 L1263.4,1317.7 L1264.6,1317.3 L1265.7,1317.0 L1266.8,1316.6 L1267.9,1316.2 L1269.0,1315.9 L1270.1,1315.5 L1271.2,1315.1 L1272.3,1314.7 L1273.4,1314.3 L1274.5,1313.9 L1275.6,1313.5 L1276.6,1313.1 L1277.7,1312.7 L1278.8,1312.3 L1279.9,1311.8 L1280.9,1311.4 L1282.0,1311.0 L1283.0,1310.5 L1284.1,1310.0 L1285.1,1309.6 L1286.2,1309.1 L1287.2,1308.6 L1288.3,1308.1 L1289.3,1307.6 L1290.3,1307.1 L1291.4,1306.5 L1292.4,1306.0 L1293.4,1305.5 L1294.4,1304.9 L1295.4,1304.3 L1296.4,1303.7 L1297.4,1303.1 L1298.4,1302.5 L1299.4,1301.9 L1300.4,1301.2 L1301.4,1300.6 L1302.4,1299.9 L1303.4,1299.2 L1304.3,1298.5 L1305.3,1297.8 L1306.3,1297.1 L1307.2,1296.3 L1308.2,1295.6 L1309.1,1294.8 L1310.1,1294.0 L1311.0,1293.2 L1312.0,1292.3 L1312.9,1291.5 L1313.9,1290.6 L1314.8,1289.7 L1315.7,1288.8 L1316.6,1287.8 L1317.6,1286.8 L1318.5,1285.8 L1319.4,1284.8 L1320.3,1283.8 L1321.2,1282.7 L1322.1,1281.6 L1323.0,1280.5 L1323.9,1279.4 L1324.7,1278.2 L1325.6,1277.1 L1326.5,1275.8 L1327.4,1274.6 L1328.2,1273.3 L1329.1,1272.0 L1330.0,1270.7 L1330.8,1269.4 L1331.7,1268.0 L1332.5,1266.7 L1333.3,1265.3 L1334.2,1263.8 L1335.0,1262.4 L1335.8,1260.9 L1336.7,1259.4 L1337.5,1257.9 L1338.3,1256.4 L1339.1,1254.8 L1339.9,1253.2 L1340.7,1251.6 L1341.5,1249.9 L1342.3,1248.3 L1343.1,1246.6 L1343.9,1244.9 L1344.6,1243.2 L1345.4,1241.4 L1346.2,1239.7 L1346.9,1237.9 L1347.7,1236.1 L1348.5,1234.3 L1349.2,1232.4 L1349.9,1230.6 L1350.7,1228.7 L1351.4,1226.9 L1352.1,1225.0 L1352.9,1223.1 L1353.6,1221.2 L1354.3,1219.3 L1355.0,1217.4 L1355.7,1215.5 L1356.4,1213.6 L1357.1,1211.7 L1357.8,1209.8 L1358.5,1207.9 L1359.2,1206.0 L1359.8,1204.1 L1360.5,1202.2 L1361.2,1200.3 L1361.8,1198.4 L1362.5,1196.6 L1363.1,1194.7 L1363.8,1192.9 L1364.4,1191.0 L1365.0,1189.2 L1365.7,1187.4 L1366.3,1185.6 L1366.9,1183.8 L1367.5,1182.0 L1368.1,1180.2 L1368.7,1178.5 L1369.3,1176.7 L1369.9,1175.0 L1370.5,1173.3 L1371.1,1171.7 L1371.6,1170.0 L1372.2,1168.4 L1372.8,1166.8 L1373.3,1165.2 L1373.9,1163.6 L1374.4,1162.0 L1375.0,1160.5 L1375.5,1159.0 L1376.0,1157.5 L1376.5,1156.1 L1377.0,1154.6 L1377.5,1153.2 L1378.0,1151.8 L1378.5,1150.5 L1379.0,1149.1 L1379.5,1147.8 L1380.0,1146.5 L1380.5,1145.2 L1380.9,1144.0 L1381.4,1142.8 L1381.8,1141.6 L1382.3,1140.4 L1382.7,1139.2 L1383.1,1138.1 L1383.5,1137.0 L1384.0,1135.9 L1384.4,1134.9 L1384.8,1133.9 L1385.2,1132.9 L1385.5,1131.9 L1385.9,1130.9 L1386.3,1130.0 L1386.6,1129.1 L1387.0,1128.2 L1387.3,1127.4 L1387.7,1126.5 L1388.0,1125.7 L1388.3,1124.9 L1388.6,1124.2 L1389.0,1123.5 L1389.2,1122.7 L1389.5,1122.1 L1389.8,1121.4 L1390.1,1120.8 L1390.3,1120.2 L1390.6,1119.6 L1390.8,1119.0 L1391.1,1118.5 L1391.3,1118.0 L1391.5,1117.5 L1391.7,1117.0 L1391.9,1116.6 L1392.0,1116.2 L1392.2,1115.9 L1392.3,1115.5 L1392.5,1115.2 L1392.6,1115.0 L1392.7,1114.8 L1392.7,1114.6 L1392.8,1114.5 L1392.8,1114.4 L1392.9,1114.3 L1392.9,1114.1 L1393.0,1113.9 L1393.1,1113.7 L1393.3,1113.4 L1393.4,1113.1 L1393.6,1112.7 L1393.7,1112.3 L1393.9,1111.9 L1394.1,1111.5 L1394.3,1111.0 L1394.5,1110.6 L1394.8,1110.1 L1395.0,1109.6 L1395.3,1109.1 L1395.5,1108.5 L1395.8,1108.0 L1396.1,1107.4 L1396.4,1106.8 L1396.6,1106.2 L1397.0,1105.6 L1397.3,1105.0 L1397.6,1104.4 L1397.9,1103.7 L1398.3,1103.1 L1398.6,1102.4 L1399.0,1101.8 L1399.3,1101.1 L1399.7,1100.4 L1400.1,1099.7 L1400.4,1099.1 L1400.8,1098.4 L1401.2,1097.7 L1401.6,1097.0 L1402.1,1096.3 L1402.5,1095.6 L1402.9,1094.9 L1403.3,1094.2 L1403.8,1093.5 L1404.2,1092.7 L1404.7,1092.0 L1405.1,1091.3 L1405.6,1090.6 L1406.1,1089.9 L1406.6,1089.2 L1407.1,1088.5 L1407.6,1087.8 L1408.1,1087.1 L1408.6,1086.3 L1409.1,1085.6 L1409.6,1084.9 L1410.1,1084.2 L1410.6,1083.5 L1411.2,1082.8 L1411.7,1082.1 L1412.3,1081.4 L1412.8,1080.7 L1413.4,1080.0 L1414.0,1079.3 L1414.5,1078.6 L1415.1,1077.9 L1415.7,1077.2 L1416.3,1076.5 L1416.9,1075.8 L1417.5,1075.1 L1418.1,1074.4 L1418.7,1073.7 L1419.3,1073.1 L1419.9,1072.4 L1420.6,1071.7 L1421.2,1071.0 L1421.8,1070.3 L1422.5,1069.6 L1423.1,1068.9 L1423.8,1068.2 L1424.4,1067.5 L1425.1,1066.9 L1425.8,1066.2 L1426.4,1065.5 L1427.1,1064.8 L1427.8,1064.1 L1428.5,1063.4 L1429.2,1062.7 L1429.9,1062.1 L1430.6,1061.4 L1431.3,1060.7 L1432.0,1060.0 L1432.7,1059.3 L1433.5,1058.6 L1434.2,1058.0 L1434.9,1057.3 L1435.7,1056.6 L1436.4,1055.9 L1437.1,1055.3 L1437.9,1054.6 L1438.7,1053.9 L1439.4,1053.2 L1440.2,1052.6 L1441.0,1051.9 L1441.7,1051.3 L1442.5,1050.6 L1443.3,1050.0 L1444.1,1049.3 L1444.9,1048.7 L1445.7,1048.1 L1446.5,1047.4 L1447.3,1046.8 L1448.1,1046.2 L1448.9,1045.6 L1449.8,1045.0 L1450.6,1044.4 L1451.4,1043.8 L1452.3,1043.2 L1453.1,1042.6 L1453.9,1042.0 L1454.8,1041.4 L1455.6,1040.8 L1456.5,1040.3 L1457.4,1039.7 L1458.2,1039.1 L1459.1,1038.6 L1460.0,1038.0 L1460.9,1037.5 L1461.7,1037.0 L1462.6,1036.4 L1463.5,1035.9 L1464.4,1035.4 L1465.3,1034.9 L1466.2,1034.3 L1467.1,1033.8 L1468.0,1033.3 L1469.0,1032.8 L1469.9,1032.3 L1470.8,1031.9 L1471.7,1031.4 L1472.7,1030.9 L1473.6,1030.4 L1474.6,1030.0 L1475.5,1029.5 L1476.5,1029.0 L1477.4,1028.6 L1478.4,1028.1 L1479.3,1027.7 L1480.3,1027.2 L1481.3,1026.8 L1482.2,1026.4 L1483.2,1026.0 L1484.2,1025.5 L1485.2,1025.1 L1486.2,1024.7 L1487.2,1024.3 L1488.2,1023.9 L1489.2,1023.4 L1490.2,1023.0 L1491.2,1022.6 L1492.2,1022.2 L1493.2,1021.8 L1494.2,1021.4 L1495.3,1021.0 L1496.3,1020.6 L1497.3,1020.2 L1498.4,1019.9 L1499.4,1019.5 L1500.5,1019.1 L1501.5,1018.7 L1502.6,1018.3 L1503.6,1017.9 L1504.7,1017.6 L1505.7,1017.2 L1506.8,1016.8 L1507.9,1016.5 L1509.0,1016.1 L1510.0,1015.7 L1511.1,1015.4 L1512.2,1015.0 L1513.3,1014.7 L1514.4,1014.3 L1515.5,1014.0 L1516.6,1013.7 L1517.7,1013.3 L1518.8,1013.0 L1519.9,1012.7 L1521.0,1012.3 L1522.2,1012.0 L1523.3,1011.7 L1524.4,1011.4 L1525.5,1011.1 L1526.7,1010.7 L1527.8,1010.4 L1529.0,1010.1 L1530.1,1009.8 L1531.2,1009.5 L1532.4,1009.2 L1533.6,1008.9 L1534.7,1008.6 L1535.9,1008.3 L1537.0,1008.0 L1538.2,1007.7 L1539.4,1007.4 L1540.6,1007.2 L1541.7,1006.9 L1542.9,1006.6 L1544.1,1006.3 L1545.3,1006.0 L1546.5,1005.7 L1547.7,1005.5 L1548.9,1005.2 L1550.1,1004.9 L1551.3,1004.6 L1552.5,1004.4 L1553.7,1004.1 L1555.0,1003.8 L1556.2,1003.6 L1557.4,1003.3 L1558.6,1003.1 L1559.9,1002.8 L1561.1,1002.5 L1562.4,1002.3 L1563.6,1002.0 L1564.8,1001.8 L1566.1,1001.5 L1567.3,1001.3 L1568.6,1001.0 L1569.9,1000.8 L1571.1,1000.5 L1572.4,1000.3 L1573.7,1000.1 L1574.9,999.8 L1576.2,999.6 L1577.5,999.4 L1578.8,999.1 L1580.1,998.9 L1581.4,998.7 L1582.7,998.4 L1584.0,998.2 L1585.3,998.0 L1586.6,997.7 L1587.9,997.5 L1589.2,997.3 L1590.5,997.1 L1591.8,996.9 L1593.1,996.6 L1594.4,996.4 L1595.8,996.2 L1597.1,996.0 L1598.4,995.8 L1599.8,995.6 L1601.1,995.4 L1602.5,995.2 L1603.8,995.0 L1605.1,994.8 L1606.5,994.6 L1607.9,994.4 L1609.2,994.2 L1610.6,994.0 L1611.9,993.8 L1613.3,993.6 L1614.7,993.4 L1616.1,993.2 L1617.4,993.0 L1618.8,992.8 L1620.2,992.6 L1621.6,992.4 L1623.0,992.2 L1624.4,992.0 L1625.8,991.8 L1627.2,991.7 L1628.6,991.5 L1630.0,991.3 L1631.4,991.1 L1632.8,990.9 L1634.2,990.8 L1635.6,990.6 L1637.1,990.4 L1638.5,990.2 L1639.9,990.1 L1641.3,989.9 L1642.8,989.7 L1644.2,989.5 L1645.7,989.4 L1647.1,989.2 L1648.6,989.0 L1648.7,989.0"/>
<path filter="url(#pen)" stroke="#ff0000" d="M1136.9,1362.4 L1137.0,1362.4 L1138.5,1361.9 L1139.9,1361.5 L1141.4,1361.0 L1142.8,1360.6 L1144.3,1360.1 L1145.7,1359.7 L1147.1,1359.2 L1148.5,1358.8 L1150.0,1358.3 L1151.4,1357.9 L1152.8,1357.4 L1154.2,1357.0 L1155.6,1356.5 L1157.0,1356.1 L1158.4,1355.6 L1159.8,1355.1 L1161.2,1354.7 L1162.6,1354.2 L1164.0,1353.8 L1165.4,1353.3 L1166.8,1352.9 L1168.2,1352.4 L1169.5,1351.9 L1170.9,1351.5 L1172.3,1351.0 L1173.7,1350.5 L1175.0,1350.1 L1176.4,1349.6 L1177.7,1349.1 L1179.1,1348.7 L1180.5,1348.2 L1181.8,1347.7 L1183.1,1347.2 L1184.5,1346.8 L1185.8,1346.3 L1187.2,1345.8 L1188.5,1345.3 L1189.8,1344.9 L1191.2,1344.4 L1192.5,1343.9 L1193.8,1343.4 L1195.1,1342.9 L1196.4,1342.4 L1197.7,1341.9 L1199.0,1341.4 L1200.3,1340.9 L1201.6,1340.5 L1202.9,1340.0 L1204.2,1339.5 L1205.5,1339.0 L1206.8,1338.4 L1208.1,1337.9 L1209.4,1337.4 L1210.7,1336.9 L1211.9,1336.4 L1213.2,1335.9 L1214.5,1335.4 L1215.7,1334.9 L1217.0,1334.4 L1218.3,1333.9 L1219.5,1333.4 L1220.8,1332.8 L1222.0,1332.3 L1223.2,1331.8 L1224.5,1331.3 L1225.7,1330.8 L1227.0,1330.3 L1228.2,1329.7 L1229.4,1329.2 L1230.6,1328.7 L1231.9,1328.2 L1233.1,1327.7 L1234.3,1327.2 L1235.5,1326.6 L1236.7,1326.1 L1237.9,1325.6 L1239.1,1325.1 L1240.3,1324.6 L1241.5,1324.0 L1242.7,1323.5 L1243.9,1323.0 L1245.0,1322.5 L1246.2,1322.0 L1247.4,1321.5 L1248.6,1320.9 L1249.7,1320.4 L1250.9,1319.9 L1252.0,1319.4 L1253.2,1318.9 L1254.4,1318.4 L1255.5,1317.8 L1256.6,1317.3 L1257.8,1316.8 L1258.9,1316.3 L1260.1,1315.8 L1261.2,1315.3 L1262.3,1314.8 L1263.4,1314.2 L1264.6,1313.7 L1265.7,1313.2 L1266.8,1312.7 L1267.9,1312.2 L1269.0,1311.7 L1270.1,1311.2 L1271.2,1310.7 L1272.3,1310.2 L1273.4,1309.7 L1274.5,1309.1 L1275.6,1308.6 L1276.6,1308.1 L1277.7,1307.6 L1278.8,1307.1 L1279.9,1306.6 L1280.9,1306.1 L1282.0,1305.6 L1283.0,1305.1 L1284.1,1304.6 L1285.1,1304.1 L1286.2,1303.6 L1287.2,1303.1 L1288.3,1302.6 L1289.3,1302.1 L1290.3,1301.6 L1291.4,1301.1 L1292.4,1300.6 L1293.4,1300.1 L1294.4,1299.6 L1295.4,1299.1 L1296.4,1298.6 L1297.4,1298.1 L1298.4,1297.6 L1299.4,1297.1 L1300.4,1296.5 L1301.4,1296.0 L1302.4,1295.5 L1303.4,1295.0 L1304.3,1294.5 L1305.3,1294.0 L1306.3,1293.5 L1307.2,1293.0 L1308.2,1292.4 L1309.1,1291.9 L1310.1,1291.4 L1311.0,1290.9 L1312.0,1290.4 L1312.9,1289.8 L1313.9,1289.3 L1314.8,1288.8 L1315.7,1288.3 L1316.6,1287.7 L1317.6,1287.2 L1318.5,1286.7 L1319.4,1286.1 L1320.3,1285.6 L1321.2,1285.1 L1322.1,1284.5 L1323.0,1284.0 L1323.9,1283.5 L1324.7,1282.9 L1325.6,1282.4 L1326.5,1281.9 L1327.4,1281.3 L1328.2,1280.8 L1329.1,1280.2 L1330.0,1279.7 L1330.8,1279.1 L1331.7,1278.6 L1332.5,1278.1 L1333.3,1277.5 L1334.2,1277.0 L1335.0,1276.4 L1335.8,1275.8 L1336.7,1275.3 L1337.5,1274.7 L1338.3,1274.2 L1339.1,1273.6 L1339.9,1273.1 L1340.7,1272.5 L1341.5,1271.9 L1342.3,1271.4 L1343.1,1270.8 L1343.9,1270.2 L1344.6,1269.7 L1345.4,1269.1 L1346.2,1268.5 L1346.9,1267.9 L1347.7,1267.4 L1348.5,1266.8 L1349.2,1266.2 L1349.9,1265.7 L1350.7,1265.1 L1351.4,1264.5 L1352.1,1263.9 L1352.9,1263.4 L1353.6,1262.8 L1354.3,1262.2 L1355.0,1261.7 L1355.7,1261.1 L1356.4,1260.5 L1357.1,1259.9 L1357.8,1259.4 L1358.5,1258.8 L1359.2,1258.2 L1359.8,1257.7 L1360.5,1257.1 L1361.2,1256.5 L1361.8,1256.0 L1362.5,1255.4 L1363.1,1254.8 L1363.8,1254.3 L1364.4,1253.7 L1365.0,1253.2 L1365.7,1252.6 L1366.3,1252.1 L1366.9,1251.5 L1367.5,1251.0 L1368.1,1250.5 L1368.7,1249.9 L1369.3,1249.4 L1369.9,1248.9 L1370.5,1248.3 L1371.1,1247.8 L1371.6,1247.3 L1372.2,1246.8 L1372.8,1246.2 L1373.3,1245.7 L1373.9,1245.2 L1374.4,1244.7 L1375.0,1244.2 L1375.5,1243.7 L1376.0,1243.2 L1376.5,1242.7 L1377.0,1242.2 L1377.5,1241.7 L1378.0,1241.2 L1378.5,1240.7 L1379.0,1240.2 L1379.5,1239.8 L1380.0,1239.3 L1380.5,1238.8 L1380.9,1238.3 L1381.4,1237.9 L1381.8,1237.4 L1382.3,1237.0 L1382.7,1236.5 L1383.1,1236.1 L1383.5,1235.6 L1384.0,1235.2 L1384.4,1234.8 L1384.8,1234.4 L1385.2,1233.9 L1385.5,1233.5 L1385.9,1233.1 L1386.3,1232.7 L1386.6,1232.3 L1387.0,1231.9 L1387.3,1231.6 L1387.7,1231.2 L1388.0,1230.8 L1388.3,1230.5 L1388.6,1230.1 L1389.0,1229.8 L1389.2,1229.4 L1389.5,1229.1 L1389.8,1228.8 L1390.1,1228.5 L1390.3,1228.2 L1390.6,1227.9 L1390.8,1227.6 L1391.1,1227.4 L1391.3,1227.1 L1391.5,1226.9 L1391.7,1226.7 L1391.9,1226.5 L1392.0,1226.3 L1392.2,1226.1 L1392.3,1225.9 L1392.5,1225.8 L1392.6,1225.6 L1392.7,1225.5 L1392.7,1225.4 L1392.8,1225.4 L1392.8,1225.3 L1392.9,1225.3 L1392.9,1225.2 L1393.0,1225.1 L1393.1,1225.0 L1393.3,1224.8 L1393.4,1224.6 L1393.6,1224.4 L1393.7,1224.2 L1393.9,1224.0 L1394.1,1223.8 L1394.3,1223.5 L1394.5,1223.3 L1394.8,1223.0 L1395.0,1222.7 L1395.3,1222.4 L1395.5,1222.1 L1395.8,1221.8 L1396.1,1221.4 L1396.4,1221.1 L1396.6,1220.7 L1397.0,1220.3 L1397.3,1219.9 L1397.6,1219.5 L1397.9,1219.1 L1398.3,1218.7 L1398.6,1218.2 L1399.0,1217.8 L1399.3,1217.3 L1399.7,1216.9 L1400.1,1216.4 L1400.4,1215.9 L1400.8,1215.4 L1401.2,1214.8 L1401.6,1214.3 L1402.1,1213.8 L1402.5,1213.2 L1402.9,1212.6 L1403.3,1212.0 L1403.8,1211.4 L1404.2,1210.8 L1404.7,1210.2 L1405.1,1209.6 L1405.6,1209.0 L1406.1,1208.3 L1406.6,1207.6 L1407.1,1207.0 L1407.6,1206.3 L1408.1,1205.6 L1408.6,1204.9 L1409.1,1204.1 L1409.6,1203.4 L1410.1,1202.7 L1410.6,1201.9 L1411.2,1201.1 L1411.7,1200.4 L1412.3,1199.6 L1412.8,1198.8 L1413.4,1198.0 L1414.0,1197.1 L1414.5,1196.3 L1415.1,1195.4 L1415.7,1194.6 L1416.3,1193.7 L1416.9,1192.8 L1417.5,1191.9 L1418.1,1191.0 L1418.7,1190.1 L1419.3,1189.2 L1419.9,1188.3 L1420.6,1187.3 L1421.2,1186.4 L1421.8,1185.4 L1422.5,1184.4 L1423.1,1183.4 L1423.8,1182.4 L1424.4,1181.4 L1425.1,1180.4 L1425.8,1179.4 L1426.4,1178.4 L1427.1,1177.3 L1427.8,1176.3 L1428.5,1175.2 L1429.2,1174.1 L1429.9,1173.1 L1430.6,1172.0 L1431.3,1170.9 L1432.0,1169.8 L1432.7,1168.7 L1433.5,1167.6 L1434.2,1166.4 L1434.9,1165.3 L1435.7,1164.2 L1436.4,1163.0 L1437.1,1161.9 L1437.9,1160.7 L1438.7,1159.6 L1439.4,1158.4 L1440.2,1157.3 L1441.0,1156.1 L1441.7,1154.9 L1442.5,1153.8 L1443.3,1152.6 L1444.1,1151.4 L1444.9,1150.2 L1445.7,1149.0 L1446.5,1147.9 L1447.3,1146.7 L1448.1,1145.5 L1448.9,1144.3 L1449.8,1143.1 L1450.6,1141.9 L1451.4,1140.8 L1452.3,1139.6 L1453.1,1138.4 L1453.9,1137.3 L1454.8,1136.1 L1455.6,1135.0 L1456.5,1133.8 L1457.4,1132.6 L1458.2,1131.5 L1459.1,1130.4 L1460.0,1129.2 L1460.9,1128.1 L1461.7,1127.0 L1462.6,1125.8 L1463.5,1124.7 L1464.4,1123.6 L1465.3,1122.4 L1466.2,1121.3 L1467.1,1120.2 L1468.0,1119.1 L1469.0,1118.0 L1469.9,1116.9 L1470.8,1115.8 L1471.7,1114.7 L1472.7,1113.6 L1473.6,1112.5 L1474.6,1111.4 L1475.5,1110.3 L1476.5,1109.2 L1477.4,1108.1 L1478.4,1107.0 L1479.3,1105.8 L1480.3,1104.7 L1481.3,1103.6 L1482.2,1102.6 L1483.2,1101.5 L1484.2,1100.4 L1485.2,1099.3 L1486.2,1098.3 L1487.2,1097.2 L1488.2,1096.1 L1489.2,1095.1 L1490.2,1094.0 L1491.2,1093.0 L1492.2,1092.0 L1493.2,1090.9 L1494.2,1089.9 L1495.3,1088.9 L1496.3,1087.8 L1497.3,1086.8 L1498.4,1085.8 L1499.4,1084.8 L1500.5,1083.8 L1501.5,1082.8 L1502.6,1081.8 L1503.6,1080.8 L1504.7,1079.9 L1505.7,1078.9 L1506.8,1077.9 L1507.9,1076.9 L1509.0,1076.0 L1510.0,1075.0 L1511.1,1074.0 L1512.2,1073.1 L1513.3,1072.1 L1514.4,1071.2 L1515.5,1070.2 L1516.6,1069.3 L1517.7,1068.3 L1518.8,1067.4 L1519.9,1066.4 L1521.0,1065.5 L1522.2,1064.5 L1523.3,1063.6 L1524.4,1062.7 L1525.5,1061.7 L1526.7,1060.8 L1527.8,1059.9 L1529.0,1058.9 L1530.1,1058.0 L1531.2,1057.1 L1532.4,1056.2 L1533.6,1055.3 L1534.7,1054.4 L1535.9,1053.5 L1537.0,1052.6 L1538.2,1051.7 L1539.4,1050.8 L1540.6,1049.9 L1541.7,1049.0 L1542.9,1048.1 L1544.1,1047.2 L1545.3,1046.4 L1546.5,1045.5 L1547.7,1044.6 L1548.9,1043.8 L1550.1,1042.9 L1551.3,1042.1 L1552.5,1041.2 L1553.7,1040.4 L1555.0,1039.6 L1556.2,1038.7 L1557.4,1037.9 L1558.6,1037.1 L1559.9,1036.3 L1561.1,1035.5 L1562.4,1034.6 L1563.6,1033.8 L1564.8,1033.0 L1566.1,1032.2 L1567.3,1031.4 L1568.6,1030.6 L1569.9,1029.8 L1571.1,1029.0 L1572.4,1028.2 L1573.7,1027.4 L1574.9,1026.7 L1576.2,1025.9 L1577.5,1025.1 L1578.8,1024.3 L1580.1,1023.6 L1581.4,1022.8 L1582.7,1022.1 L1584.0,1021.3 L1585.3,1020.6 L1586.6,1019.9 L1587.9,1019.2 L1589.2,1018.5 L1590.5,1017.8 L1591.8,1017.1 L1593.1,1016.4 L1594.4,1015.8 L1595.8,1015.1 L1597.1,1014.4 L1598.4,1013.8 L1599.8,1013.1 L1601.1,1012.5 L1602.5,1011.8 L1603.8,1011.2 L1605.1,1010.5 L1606.5,1009.9 L1607.9,1009.3 L1609.2,1008.6 L1610.6,1008.0 L1611.9,1007.4 L1613.3,1006.8 L1614.7,1006.2 L1616.1,1005.5 L1617.4,1004.9 L1618.8,1004.3 L1620.2,1003.7 L1621.6,1003.1 L1623.0,1002.5 L1624.4,1001.9 L1625.8,1001.3 L1627.2,1000.8 L1628.6,1000.2 L1630.0,999.6 L1631.4,999.0 L1632.8,998.4 L1634.2,997.8 L1635.6,997.3 L1637.1,996.7 L1638.5,996.1 L1639.9,995.6 L1641.3,995.0 L1642.8,994.5 L1644.2,993.9 L1645.7,993.3 L1647.1,992.8 L1648.6,992.2 L1648.7,992.2"/>
<path filter="url(#pen)" stroke="#ff0000" d="M1136.9,1349.1 L1137.0,1349.0 L1138.5,1348.5 L1139.9,1347.9 L1141.4,1347.3 L1142.8,1346.7 L1144.3,1346.2 L1145.7,1345.6 L1147.1,1345.0 L1148.5,1344.4 L1150.0,1343.8 L1151.4,1343.2 L1152.8,1342.6 L1154.2,1342.0 L1155.6,1341.4 L1157.0,1340.8 L1158.4,1340.2 L1159.8,1339.6 L1161.2,1339.0 L1162.6,1338.4 L1164.0,1337.8 L1165.4,1337.1 L1166.8,1336.5 L1168.2,1335.9 L1169.5,1335.3 L1170.9,1334.7 L1172.3,1334.0 L1173.7,1333.4 L1175.0,1332.7 L1176.4,1332.1 L1177.7,1331.5 L1179.1,1330.8 L1180.5,1330.2 L1181.8,1329.5 L1183.1,1328.9 L1184.5,1328.2 L1185.8,1327.5 L1187.2,1326.9 L1188.5,1326.2 L1189.8,1325.5 L1191.2,1324.8 L1192.5,1324.1 L1193.8,1323.5 L1195.1,1322.8 L1196.4,1322.1 L1197.7,1321.4 L1199.0,1320.7 L1200.3,1320.0 L1201.6,1319.2 L1202.9,1318.5 L1204.2,1317.8 L1205.5,1317.1 L1206.8,1316.4 L1208.1,1315.6 L1209.4,1314.9 L1210.7,1314.1 L1211.9,1313.4 L1213.2,1312.6 L1214.5,1311.9 L1215.7,1311.1 L1217.0,1310.4 L1218.3,1309.6 L1219.5,1308.8 L1220.8,1308.1 L1222.0,1307.3 L1223.2,1306.5 L1224.5,1305.7 L1225.7,1304.9 L1227.0,1304.2 L1228.2,1303.4 L1229.4,1302.6 L1230.6,1301.8 L1231.9,1301.0 L1233.1,1300.1 L1234.3,1299.3 L1235.5,1298.5 L1236.7,1297.7 L1237.9,1296.9 L1239.1,1296.0 L1240.3,1295.2 L1241.5,1294.4 L1242.7,1293.5 L1243.9,1292.7 L1245.0,1291.8 L1246.2,1291.0 L1247.4,1290.1 L1248.6,1289.3 L1249.7,1288.4 L1250.9,1287.5 L1252.0,1286.6 L1253.2,1285.8 L1254.4,1284.9 L1255.5,1284.0 L1256.6,1283.1 L1257.8,1282.2 L1258.9,1281.3 L1260.1,1280.4 L1261.2,1279.5 L1262.3,1278.6 L1263.4,1277.6 L1264.6,1276.7 L1265.7,1275.8 L1266.8,1274.9 L1267.9,1273.9 L1269.0,1273.0 L1270.1,1272.0 L1271.2,1271.1 L1272.3,1270.1 L1273.4,1269.2 L1274.5,1268.2 L1275.6,1267.2 L1276.6,1266.3 L1277.7,1265.3 L1278.8,1264.3 L1279.9,1263.3 L1280.9,1262.3 L1282.0,1261.3 L1283.0,1260.3 L1284.1,1259.3 L1285.1,1258.3 L1286.2,1257.3 L1287.2,1256.3 L1288.3,1255.3 L1289.3,1254.3 L1290.3,1253.2 L1291.4,1252.2 L1292.4,1251.2 L1293.4,1250.1 L1294.4,1249.1 L1295.4,1248.0 L1296.4,1247.0 L1297.4,1245.9 L1298.4,1244.8 L1299.4,1243.7 L1300.4,1242.7 L1301.4,1241.6 L1302.4,1240.5 L1303.4,1239.4 L1304.3,1238.3 L1305.3,1237.2 L1306.3,1236.1 L1307.2,1235.0 L1308.2,1233.9 L1309.1,1232.7 L1310.1,1231.6 L1311.0,1230.5 L1312.0,1229.3 L1312.9,1228.2 L1313.9,1227.0 L1314.8,1225.9 L1315.7,1224.8 L1316.6,1223.7 L1317.6,1222.6 L1318.5,1221.5 L1319.4,1220.4 L1320.3,1219.3 L1321.2,1218.2 L1322.1,1217.1 L1323.0,1216.0 L1323.9,1214.8 L1324.7,1213.7 L1325.6,1212.6 L1326.5,1211.4 L1327.4,1210.3 L1328.2,1209.1 L1329.1,1208.0 L1330.0,1206.8 L1330.8,1205.6 L1331.7,1204.4 L1332.5,1203.2 L1333.3,1202.1 L1334.2,1200.9 L1335.0,1199.7 L1335.8,1198.5 L1336.7,1197.3 L1337.5,1196.1 L1338.3,1194.9 L1339.1,1193.7 L1339.9,1192.5 L1340.7,1191.3 L1341.5,1190.2 L1342.3,1189.0 L1343.1,1187.8 L1343.9,1186.6 L1344.6,1185.4 L1345.4,1184.3 L1346.2,1183.1 L1346.9,1181.9 L1347.7,1180.8 L1348.5,1179.6 L1349.2,1178.4 L1349.9,1177.3 L1350.7,1176.1 L1351.4,1175.0 L1352.1,1173.9 L1352.9,1172.8 L1353.6,1171.6 L1354.3,1170.5 L1355.0,1169.4 L1355.7,1168.3 L1356.4,1167.3 L1357.1,1166.2 L1357.8,1165.1 L1358.5,1164.1 L1359.2,1163.0 L1359.8,1162.0 L1360.5,1160.9 L1361.2,1159.9 L1361.8,1158.9 L1362.5,1157.9 L1363.1,1156.9 L1363.8,1156.0 L1364.4,1155.0 L1365.0,1154.0 L1365.7,1153.1 L1366.3,1152.1 L1366.9,1151.2 L1367.5,1150.3 L1368.1,1149.4 L1368.7,1148.5 L1369.3,1147.6 L1369.9,1146.8 L1370.5,1145.9 L1371.1,1145.1 L1371.6,1144.2 L1372.2,1143.4 L1372.8,1142.6 L1373.3,1141.8 L1373.9,1141.0 L1374.4,1140.3 L1375.0,1139.5 L1375.5,1138.8 L1376.0,1138.0 L1376.5,1137.3 L1377.0,1136.6 L1377.5,1135.9 L1378.0,1135.2 L1378.5,1134.5 L1379.0,1133.8 L1379.5,1133.2 L1380.0,1132.5 L1380.5,1131.9 L1380.9,1131.3 L1381.4,1130.7 L1381.8,1130.1 L1382.3,1129.5 L1382.7,1128.9 L1383.1,1128.3 L1383.5,1127.8 L1384.0,1127.3 L1384.4,1126.7 L1384.8,1126.2 L1385.2,1125.7 L1385.5,1125.2 L1385.9,1124.7 L1386.3,1124.3 L1386.6,1123.8 L1387.0,1123.4 L1387.3,1122.9 L1387.7,1122.5 L1388.0,1122.1 L1388.3,1121.7 L1388.6,1121.3 L1389.0,1120.9 L1389.2,1120.6 L1389.5,1120.2 L1389.8,1119.9 L1390.1,1119.5 L1390.3,1119.2 L1390.6,1118.9 L1390.8,1118.6 L1391.1,1118.4 L1391.3,1118.1 L1391.5,1117.9 L1391.7,1117.6 L1391.9,1117.4 L1392.0,1117.2 L1392.2,1117.0 L1392.3,1116.8 L1392.5,1116.7 L1392.6,1116.6 L1392.7,1116.4 L1392.7,1116.4 L1392.8,1116.3 L1392.8,1116.3 L1392.9,1116.2 L1392.9,1116.1 L1393.0,1116.0 L1393.1,1115.9 L1393.3,1115.7 L1393.4,1115.6 L1393.6,1115.4 L1393.7,1115.2 L1393.9,1115.0 L1394.1,1114.7 L1394.3,1114.5 L1394.5,1114.3 L1394.8,1114.0 L1395.0,1113.7 L1395.3,1113.4 L1395.5,1113.1 L1395.8,1112.8 L1396.1,1112.5 L1396.4,1112.2 L1396.6,1111.9 L1397.0,1111.5 L1397.3,1111.2 L1397.6,1110.8 L1397.9,1110.4 L1398.3,1110.1 L1398.6,1109.7 L1399.0,1109.3 L1399.3,1108.9 L1399.7,1108.5 L1400.1,1108.1 L1400.4,1107.7 L1400.8,1107.2 L1401.2,1106.8 L1401.6,1106.4 L1402.1,1105.9 L1402.5,1105.5 L1402.9,1105.0 L1403.3,1104.6 L1403.8,1104.1 L1404.2,1103.7 L1404.7,1103.2 L1405.1,1102.7 L1405.6,1102.3 L1406.1,1101.8 L1406.6,1101.3 L1407.1,1100.8 L1407.6,1100.4 L1408.1,1099.9 L1408.6,1099.4 L1409.1,1098.9 L1409.6,1098.4 L1410.1,1097.9 L1410.6,1097.4 L1411.2,1096.9 L1411.7,1096.4 L1412.3,1095.9 L1412.8,1095.4 L1413.4,1094.9 L1414.0,1094.4 L1414.5,1093.8 L1415.1,1093.3 L1415.7,1092.8 L1416.3,1092.3 L1416.9,1091.8 L1417.5,1091.2 L1418.1,1090.7 L1418.7,1090.2 L1419.3,1089.7 L1419.9,1089.1 L1420.6,1088.6 L1421.2,1088.1 L1421.8,1087.6 L1422.5,1087.0 L1423.1,1086.5 L1423.8,1085.9 L1424.4,1085.4 L1425.1,1084.9 L1425.8,1084.3 L1426.4,1083.8 L1427.1,1083.2 L1427.8,1082.7 L1428.5,1082.2 L1429.2,1081.6 L1429.9,1081.1 L1430.6,1080.5 L1431.3,1080.0 L1432.0,1079.4 L1432.7,1078.8 L1433.5,1078.3 L1434.2,1077.7 L1434.9,1077.2 L1435.7,1076.6 L1436.4,1076.0 L1437.1,1075.5 L1437.9,1074.9 L1438.7,1074.3 L1439.4,1073.8 L1440.2,1073.2 L1441.0,1072.6 L1441.7,1072.1 L1442.5,1071.5 L1443.3,1070.9 L1444.1,1070.4 L1444.9,1069.8 L1445.7,1069.2 L1446.5,1068.7 L1447.3,1068.1 L1448.1,1067.6 L1448.9,1067.0 L1449.8,1066.4 L1450.6,1065.9 L1451.4,1065.3 L1452.3,1064.8 L1453.1,1064.2 L1453.9,1063.7 L1454.8,1063.1 L1455.6,1062.6 L1456.5,1062.0 L1457.4,1061.5 L1458.2,1061.0 L1459.1,1060.4 L1460.0,1059.9 L1460.9,1059.4 L1461.7,1058.8 L1462.6,1058.3 L1463.5,1057.8 L1464.4,1057.3 L1465.3,1056.8 L1466.2,1056.2 L1467.1,1055.7 L1468.0,1055.2 L1469.0,1054.7 L1469.9,1054.2 L1470.8,1053.7 L1471.7,1053.2 L1472.7,1052.7 L1473.6,1052.2 L1474.6,1051.7 L1475.5,1051.2 L1476.5,1050.7 L1477.4,1050.2 L1478.4,1049.7 L1479.3,1049.2 L1480.3,1048.7 L1481.3,1048.2 L1482.2,1047.7 L1483.2,1047.2 L1484.2,1046.7 L1485.2,1046.2 L1486.2,1045.7 L1487.2,1045.2 L1488.2,1044.7 L1489.2,1044.3 L1490.2,1043.8 L1491.2,1043.3 L1492.2,1042.8 L1493.2,1042.3 L1494.2,1041.8 L1495.3,1041.3 L1496.3,1040.8 L1497.3,1040.3 L1498.4,1039.8 L1499.4,1039.3 L1500.5,1038.8 L1501.5,1038.3 L1502.6,1037.8 L1503.6,1037.3 L1504.7,1036.8 L1505.7,1036.3 L1506.8,1035.8 L1507.9,1035.3 L1509.0,1034.8 L1510.0,1034.3 L1511.1,1033.8 L1512.2,1033.3 L1513.3,1032.8 L1514.4,1032.3 L1515.5,1031.8 L1516.6,1031.3 L1517.7,1030.8 L1518.8,1030.3 L1519.9,1029.8 L1521.0,1029.3 L1522.2,1028.8 L1523.3,1028.3 L1524.4,1027.8 L1525.5,1027.3 L1526.7,1026.8 L1527.8,1026.3 L1529.0,1025.8 L1530.1,1025.3 L1531.2,1024.8 L1532.4,1024.3 L1533.6,1023.8 L1534.7,1023.2 L1535.9,1022.7 L1537.0,1022.2 L1538.2,1021.7 L1539.4,1021.2 L1540.6,1020.7 L1541.7,1020.2 L1542.9,1019.7 L1544.1,1019.2 L1545.3,1018.7 L1546.5,1018.1 L1547.7,1017.6 L1548.9,1017.1 L1550.1,1016.6 L1551.3,1016.1 L1552.5,1015.6 L1553.7,1015.1 L1555.0,1014.6 L1556.2,1014.0 L1557.4,1013.5 L1558.6,1013.0 L1559.9,1012.5 L1561.1,1012.0 L1562.4,1011.5 L1563.6,1011.0 L1564.8,1010.5 L1566.1,1009.9 L1567.3,1009.4 L1568.6,1008.9 L1569.9,1008.4 L1571.1,1007.9 L1572.4,1007.4 L1573.7,1006.9 L1574.9,1006.3 L1576.2,1005.8 L1577.5,1005.3 L1578.8,1004.8 L1580.1,1004.3 L1581.4,1003.7 L1582.7,1003.2 L1584.0,1002.7 L1585.3,1002.2 L1586.6,1001.7 L1587.9,1001.1 L1589.2,1000.6 L1590.5,1000.1 L1591.8,999.6 L1593.1,999.1 L1594.4,998.6 L1595.8,998.1 L1597.1,997.6 L1598.4,997.1 L1599.8,996.6 L1601.1,996.1 L1602.5,995.6 L1603.8,995.1 L1605.1,994.6 L1606.5,994.1 L1607.9,993.7 L1609.2,993.2 L1610.6,992.7 L1611.9,992.2 L1613.3,991.8 L1614.7,991.3 L1616.1,990.8 L1617.4,990.4 L1618.8,989.9 L1620.2,989.4 L1621.6,989.0 L1623.0,988.5 L1624.4,988.0 L1625.8,987.6 L1627.2,987.1 L1628.6,986.7 L1630.0,986.2 L1631.4,985.7 L1632.8,985.3 L1634.2,984.8 L1635.6,984.4 L1637.1,983.9 L1638.5,983.5 L1639.9,983.0 L1641.3,982.6 L1642.8,982.1 L1644.2,981.7 L1645.7,981.2 L1647.1,980.8 L1648.6,980.3 L1648.7,980.3"/>
<path filter="url(#pen)" stroke="#008000" d="M1136.9,1426.1 L1137.0,1426.0 L1138.5,1424.8 L1139.9,1423.7 L1141.4,1422.5 L1142.8,1421.4 L1144.3,1420.2 L1145.7,1419.1 L1147.1,1417.9 L1148.5,1416.8 L1150.0,1415.6 L1151.4,1414.5 L1152.8,1413.3 L1154.2,1412.2 L1155.6,1411.0 L1157.0,1409.9 L1158.4,1408.7 L1159.8,1407.6 L1161.2,1406.4 L1162.6,1405.3 L1164.0,1404.2 L1165.4,1403.0 L1166.8,1401.9 L1168.2,1400.7 L1169.5,1399.6 L1170.9,1398.5 L1172.3,1397.3 L1173.7,1396.2 L1175.0,1395.1 L1176.4,1393.9 L1177.7,1392.8 L1179.1,1391.7 L1180.5,1390.5 L1181.8,1389.4 L1183.1,1388.3 L1184.5,1387.1 L1185.8,1386.0 L1187.2,1384.8 L1188.5,1383.7 L1189.8,1382.6 L1191.2,1381.4 L1192.5,1380.3 L1193.8,1379.1 L1195.1,1378.0 L1196.4,1376.8 L1197.7,1375.7 L1199.0,1374.5 L1200.3,1373.4 L1201.6,1372.2 L1202.9,1371.1 L1204.2,1369.9 L1205.5,1368.8 L1206.8,1367.7 L1208.1,1366.5 L1209.4,1365.4 L1210.7,1364.3 L1211.9,1363.1 L1213.2,1362.0 L1214.5,1360.9 L1215.7,1359.8 L1217.0,1358.6 L1218.3,1357.5 L1219.5,1356.4 L1220.8,1355.3 L1222.0,1354.1 L1223.2,1353.0 L1224.5,1351.9 L1225.7,1350.8 L1227.0,1349.6 L1228.2,1348.5 L1229.4,1347.4 L1230.6,1346.3 L1231.9,1345.2 L1233.1,1344.1 L1234.3,1343.0 L1235.5,1341.8 L1236.7,1340.7 L1237.9,1339.6 L1239.1,1338.5 L1240.3,1337.4 L1241.5,1336.4 L1242.7,1335.3 L1243.9,1334.2 L1245.0,1333.1 L1246.2,1332.0 L1247.4,1331.0 L1248.6,1329.9 L1249.7,1328.8 L1250.9,1327.8 L1252.0,1326.7 L1253.2,1325.7 L1254.4,1324.7 L1255.5,1323.6 L1256.6,1322.6 L1257.8,1321.5 L1258.9,1320.5 L1260.1,1319.5 L1261.2,1318.4 L1262.3,1317.4 L1263.4,1316.4 L1264.6,1315.3 L1265.7,1314.3 L1266.8,1313.3 L1267.9,1312.3 L1269.0,1311.3 L1270.1,1310.3 L1271.2,1309.3 L1272.3,1308.2 L1273.4,1307.2 L1274.5,1306.2 L1275.6,1305.2 L1276.6,1304.3 L1277.7,1303.3 L1278.8,1302.3 L1279.9,1301.3 L1280.9,1300.3 L1282.0,1299.3 L1283.0,1298.3 L1284.1,1297.4 L1285.1,1296.4 L1286.2,1295.4 L1287.2,1294.5 L1288.3,1293.5 L1289.3,1292.6 L1290.3,1291.6 L1291.4,1290.7 L1292.4,1289.7 L1293.4,1288.8 L1294.4,1287.8 L1295.4,1286.9 L1296.4,1285.9 L1297.4,1285.0 L1298.4,1284.1 L1299.4,1283.2 L1300.4,1282.2 L1301.4,1281.3 L1302.4,1280.4 L1303.4,1279.5 L1304.3,1278.6 L1305.3,1277.6 L1306.3,1276.7 L1307.2,1275.8 L1308.2,1274.9 L1309.1,1274.0 L1310.1,1273.1 L1311.0,1272.2 L1312.0,1271.3 L1312.9,1270.5 L1313.9,1269.6 L1314.8,1268.7 L1315.7,1267.8 L1316.6,1266.9 L1317.6,1266.1 L1318.5,1265.2 L1319.4,1264.3 L1320.3,1263.4 L1321.2,1262.6 L1322.1,1261.7 L1323.0,1260.9 L1323.9,1260.0 L1324.7,1259.2 L1325.6,1258.3 L1326.5,1257.5 L1327.4,1256.6 L1328.2,1255.8 L1329.1,1254.9 L1330.0,1254.1 L1330.8,1253.3 L1331.7,1252.4 L1332.5,1251.6 L1333.3,1250.8 L1334.2,1250.0 L1335.0,1249.2 L1335.8,1248.4 L1336.7,1247.6 L1337.5,1246.9 L1338.3,1246.1 L1339.1,1245.4 L1339.9,1244.7 L1340.7,1244.0 L1341.5,1243.2 L1342.3,1242.5 L1343.1,1241.8 L1343.9,1241.1 L1344.6,1240.4 L1345.4,1239.7 L1346.2,1239.0 L1346.9,1238.2 L1347.7,1237.5 L1348.5,1236.8 L1349.2,1236.1 L1349.9,1235.3 L1350.7,1234.6 L1351.4,1233.9 L1352.1,1233.2 L1352.9,1232.4 L1353.6,1231.7 L1354.3,1231.0 L1355.0,1230.3 L1355.7,1229.5 L1356.4,1228.8 L1357.1,1228.1 L1357.8,1227.4 L1358.5,1226.7 L1359.2,1226.0 L1359.8,1225.3 L1360.5,1224.6 L1361.2,1223.9 L1361.8,1223.2 L1362.5,1222.5 L1363.1,1221.8 L1363.8,1221.1 L1364.4,1220.4 L1365.0,1219.7 L1365.7,1219.1 L1366.3,1218.4 L1366.9,1217.7 L1367.5,1217.0 L1368.1,1216.4 L1368.7,1215.7 L1369.3,1215.1 L1369.9,1214.4 L1370.5,1213.7 L1371.1,1213.1 L1371.6,1212.5 L1372.2,1211.8 L1372.8,1211.2 L1373.3,1210.5 L1373.9,1209.9 L1374.4,1209.3 L1375.0,1208.7 L1375.5,1208.1 L1376.0,1207.4 L1376.5,1206.8 L1377.0,1206.2 L1377.5,1205.6 L1378.0,1205.1 L1378.5,1204.5 L1379.0,1203.9 L1379.5,1203.3 L1380.0,1202.8 L1380.5,1202.2 L1380.9,1201.6 L1381.4,1201.1 L1381.8,1200.6 L1382.3,1200.0 L1382.7,1199.5 L1383.1,1199.0 L1383.5,1198.5 L1384.0,1197.9 L1384.4,1197.4 L1384.8,1197.0 L1385.2,1196.5 L1385.5,1196.0 L1385.9,1195.5 L1386.3,1195.1 L1386.6,1194.6 L1387.0,1194.2 L1387.3,1193.7 L1387.7,1193.3 L1388.0,1192.9 L1388.3,1192.5 L1388.6,1192.1 L1389.0,1191.7 L1389.2,1191.3 L1389.5,1191.0 L1389.8,1190.6 L1390.1,1190.3 L1390.3,1189.9 L1390.6,1189.6 L1390.8,1189.3 L1391.1,1189.0 L1391.3,1188.7 L1391.5,1188.5 L1391.7,1188.2 L1391.9,1188.0 L1392.0,1187.8 L1392.2,1187.6 L1392.3,1187.4 L1392.5,1187.2 L1392.6,1187.1 L1392.7,1187.0 L1392.7,1186.9 L1392.8,1186.8 L1392.8,1186.8 L1392.9,1186.7 L1392.9,1186.6 L1393.0,1186.5 L1393.1,1186.3 L1393.3,1186.2 L1393.4,1186.0 L1393.6,1185.8 L1393.7,1185.6 L1393.9,1185.3 L1394.1,1185.1 L1394.3,1184.8 L1394.5,1184.5 L1394.8,1184.2 L1395.0,1183.9 L1395.3,1183.6 L1395.5,1183.3 L1395.8,1182.9 L1396.1,1182.6 L1396.4,1182.2 L1396.6,1181.8 L1397.0,1181.4 L1397.3,1181.0 L1397.6,1180.6 L1397.9,1180.1 L1398.3,1179.7 L1398.6,1179.3 L1399.0,1178.8 L1399.3,1178.3 L1399.7,1177.8 L1400.1,1177.4 L1400.4,1176.9 L1400.8,1176.3 L1401.2,1175.8 L1401.6,1175.3 L1402.1,1174.8 L1402.5,1174.2 L1402.9,1173.6 L1403.3,1173.1 L1403.8,1172.5 L1404.2,1171.9 L1404.7,1171.3 L1405.1,1170.7 L1405.6,1170.1 L1406.1,1169.5 L1406.6,1168.9 L1407.1,1168.2 L1407.6,1167.6 L1408.1,1166.9 L1408.6,1166.3 L1409.1,1165.6 L1409.6,1164.9 L1410.1,1164.3 L1410.6,1163.6 L1411.2,1162.9 L1411.7,1162.2 L1412.3,1161.5 L1412.8,1160.7 L1413.4,1160.0 L1414.0,1159.3 L1414.5,1158.5 L1415.1,1157.8 L1415.7,1157.0 L1416.3,1156.3 L1416.9,1155.5 L1417.5,1154.7 L1418.1,1153.9 L1418.7,1153.1 L1419.3,1152.3 L1419.9,1151.5 L1420.6,1150.7 L1421.2,1149.9 L1421.8,1149.1 L1422.5,1148.2 L1423.1,1147.4 L1423.8,1146.6 L1424.4,1145.7 L1425.1,1144.9 L1425.8,1144.0 L1426.4,1143.1 L1427.1,1142.3 L1427.8,1141.4 L1428.5,1140.5 L1429.2,1139.6 L1429.9,1138.7 L1430.6,1137.8 L1431.3,1136.9 L1432.0,1136.0 L1432.7,1135.1 L1433.5,1134.2 L1434.2,1133.2 L1434.9,1132.3 L1435.7,1131.3 L1436.4,1130.4 L1437.1,1129.5 L1437.9,1128.5 L1438.7,1127.5 L1439.4,1126.6 L1440.2,1125.6 L1441.0,1124.6 L1441.7,1123.7 L1442.5,1122.7 L1443.3,1121.7 L1444.1,1120.7 L1444.9,1119.7 L1445.7,1118.7 L1446.5,1117.7 L1447.3,1116.7 L1448.1,1115.7 L1448.9,1114.7 L1449.8,1113.6 L1450.6,1112.6 L1451.4,1111.6 L1452.3,1110.6 L1453.1,1109.5 L1453.9,1108.5 L1454.8,1107.5 L1455.6,1106.4 L1456.5,1105.4 L1457.4,1104.3 L1458.2,1103.3 L1459.1,1102.2 L1460.0,1101.2 L1460.9,1100.1 L1461.7,1099.1 L1462.6,1098.0 L1463.5,1096.9 L1464.4,1095.9 L1465.3,1094.8 L1466.2,1093.7 L1467.1,1092.7 L1468.0,1091.6 L1469.0,1090.5 L1469.9,1089.4 L1470.8,1088.4 L1471.7,1087.3 L1472.7,1086.2 L1473.6,1085.1 L1474.6,1084.0 L1475.5,1082.9 L1476.5,1081.8 L1477.4,1080.7 L1478.4,1079.6 L1479.3,1078.5 L1480.3,1077.4 L1481.3,1076.3 L1482.2,1075.1 L1483.2,1074.0 L1484.2,1072.9 L1485.2,1071.8 L1486.2,1070.7 L1487.2,1069.5 L1488.2,1068.4 L1489.2,1067.3 L1490.2,1066.1 L1491.2,1065.0 L1492.2,1063.9 L1493.2,1062.7 L1494.2,1061.6 L1495.3,1060.4 L1496.3,1059.3 L1497.3,1058.1 L1498.4,1057.0 L1499.4,1055.8 L1500.5,1054.7 L1501.5,1053.5 L1502.6,1052.3 L1503.6,1051.2 L1504.7,1050.0 L1505.7,1048.9 L1506.8,1047.7 L1507.9,1046.5 L1509.0,1045.4 L1510.0,1044.2 L1511.1,1043.1 L1512.2,1041.9 L1513.3,1040.7 L1514.4,1039.6 L1515.5,1038.4 L1516.6,1037.2 L1517.7,1036.0 L1518.8,1034.9 L1519.9,1033.7 L1521.0,1032.5 L1522.2,1031.3 L1523.3,1030.2 L1524.4,1029.0 L1525.5,1027.8 L1526.7,1026.6 L1527.8,1025.4 L1529.0,1024.3 L1530.1,1023.1 L1531.2,1021.9 L1532.4,1020.7 L1533.6,1019.5 L1534.7,1018.3 L1535.9,1017.2 L1537.0,1016.0 L1538.2,1014.8 L1539.4,1013.6 L1540.6,1012.4 L1541.7,1011.2 L1542.9,1010.1 L1544.1,1008.9 L1545.3,1007.7 L1546.5,1006.5 L1547.7,1005.3 L1548.9,1004.1 L1550.1,1002.9 L1551.3,1001.8 L1552.5,1000.6 L1553.7,999.4 L1555.0,998.2 L1556.2,997.0 L1557.4,995.8 L1558.6,994.6 L1559.9,993.4 L1561.1,992.3 L1562.4,991.1 L1563.6,989.9 L1564.8,988.7 L1566.1,987.5 L1567.3,986.3 L1568.6,985.1 L1569.9,983.9 L1571.1,982.7 L1572.4,981.5 L1573.7,980.3 L1574.9,979.2 L1576.2,978.0 L1577.5,976.8 L1578.8,975.6 L1580.1,974.4 L1581.4,973.2 L1582.7,972.0 L1584.0,970.8 L1585.3,969.6 L1586.6,968.5 L1587.9,967.3 L1589.2,966.1 L1590.5,964.9 L1591.8,963.7 L1593.1,962.5 L1594.4,961.3 L1595.8,960.1 L1597.1,958.9 L1598.4,957.7 L1599.8,956.5 L1601.1,955.3 L1602.5,954.1 L1603.8,952.9 L1605.1,951.7 L1606.5,950.5 L1607.9,949.3 L1609.2,948.1 L1610.6,946.9 L1611.9,945.7 L1613.3,944.5 L1614.7,943.3 L1616.1,942.1 L1617.4,940.9 L1618.8,939.7 L1620.2,938.5 L1621.6,937.3 L1623.0,936.1 L1624.4,934.9 L1625.8,933.6 L1627.2,932.4 L1628.6,931.2 L1630.0,930.0 L1631.4,928.8 L1632.8,927.6 L1634.2,926.4 L1635.6,925.2 L1637.1,923.9 L1638.5,922.7 L1639.9,921.5 L1641.3,920.3 L1642.8,919.1 L1644.2,917.9 L1645.7,916.6 L1647.1,915.4 L1648.6,914.2 L1648.7,914.1"/>
<path filter="url(#pen)" stroke="#008000" d="M1136.9,1416.1 L1137.0,1416.0 L1138.5,1414.8 L1139.9,1413.5 L1141.4,1412.2 L1142.8,1411.0 L1144.3,1409.7 L1145.7,1408.5 L1147.1,1407.2 L1148.5,1406.0 L1150.0,1404.7 L1151.4,1403.5 L1152.8,1402.2 L1154.2,1401.0 L1155.6,1399.7 L1157.0,1398.5 L1158.4,1397.2 L1159.8,1396.0 L1161.2,1394.7 L1162.6,1393.5 L1164.0,1392.3 L1165.4,1391.0 L1166.8,1389.8 L1168.2,1388.5 L1169.5,1387.3 L1170.9,1386.1 L1172.3,1384.8 L1173.7,1383.6 L1175.0,1382.3 L1176.4,1381.1 L1177.7,1379.9 L1179.1,1378.6 L1180.5,1377.4 L1181.8,1376.2 L1183.1,1374.9 L1184.5,1373.7 L1185.8,1372.4 L1187.2,1371.2 L1188.5,1370.0 L1189.8,1368.7 L1191.2,1367.5 L1192.5,1366.3 L1193.8,1365.0 L1195.1,1363.8 L1196.4,1362.5 L1197.7,1361.3 L1199.0,1360.1 L1200.3,1358.9 L1201.6,1357.6 L1202.9,1356.4 L1204.2,1355.2 L1205.5,1354.0 L1206.8,1352.8 L1208.1,1351.5 L1209.4,1350.3 L1210.7,1349.1 L1211.9,1347.9 L1213.2,1346.8 L1214.5,1345.6 L1215.7,1344.4 L1217.0,1343.2 L1218.3,1342.0 L1219.5,1340.9 L1220.8,1339.7 L1222.0,1338.6 L1223.2,1337.4 L1224.5,1336.3 L1225.7,1335.1 L1227.0,1334.0 L1228.2,1332.9 L1229.4,1331.7 L1230.6,1330.6 L1231.9,1329.5 L1233.1,1328.4 L1234.3,1327.2 L1235.5,1326.1 L1236.7,1325.0 L1237.9,1323.9 L1239.1,1322.8 L1240.3,1321.7 L1241.5,1320.6 L1242.7,1319.5 L1243.9,1318.3 L1245.0,1317.2 L1246.2,1316.1 L1247.4,1315.0 L1248.6,1313.9 L1249.7,1312.8 L1250.9,1311.7 L1252.0,1310.6 L1253.2,1309.5 L1254.4,1308.4 L1255.5,1307.3 L1256.6,1306.2 L1257.8,1305.2 L1258.9,1304.1 L1260.1,1303.0 L1261.2,1301.9 L1262.3,1300.8 L1263.4,1299.8 L1264.6,1298.7 L1265.7,1297.6 L1266.8,1296.5 L1267.9,1295.5 L1269.0,1294.4 L1270.1,1293.3 L1271.2,1292.3 L1272.3,1291.2 L1273.4,1290.2 L1274.5,1289.1 L1275.6,1288.0 L1276.6,1287.0 L1277.7,1285.9 L1278.8,1284.9 L1279.9,1283.8 L1280.9,1282.8 L1282.0,1281.7 L1283.0,1280.7 L1284.1,1279.6 L1285.1,1278.6 L1286.2,1277.5 L1287.2,1276.5 L1288.3,1275.4 L1289.3,1274.4 L1290.3,1273.3 L1291.4,1272.3 L1292.4,1271.2 L1293.4,1270.2 L1294.4,1269.2 L1295.4,1268.1 L1296.4,1267.1 L1297.4,1266.0 L1298.4,1265.0 L1299.4,1264.0 L1300.4,1262.9 L1301.4,1261.9 L1302.4,1260.9 L1303.4,1259.8 L1304.3,1258.8 L1305.3,1257.8 L1306.3,1256.8 L1307.2,1255.8 L1308.2,1254.7 L1309.1,1253.7 L1310.1,1252.7 L1311.0,1251.7 L1312.0,1250.7 L1312.9,1249.7 L1313.9,1248.6 L1314.8,1247.6 L1315.7,1246.6 L1316.6,1245.6 L1317.6,1244.6 L1318.5,1243.6 L1319.4,1242.6 L1320.3,1241.6 L1321.2,1240.6 L1322.1,1239.6 L1323.0,1238.6 L1323.9,1237.6 L1324.7,1236.6 L1325.6,1235.6 L1326.5,1234.6 L1327.4,1233.6 L1328.2,1232.6 L1329.1,1231.6 L1330.0,1230.6 L1330.8,1229.6 L1331.7,1228.6 L1332.5,1227.7 L1333.3,1226.7 L1334.2,1225.7 L1335.0,1224.7 L1335.8,1223.7 L1336.7,1222.7 L1337.5,1221.8 L1338.3,1220.8 L1339.1,1219.8 L1339.9,1218.9 L1340.7,1217.9 L1341.5,1216.9 L1342.3,1216.0 L1343.1,1215.0 L1343.9,1214.1 L1344.6,1213.1 L1345.4,1212.2 L1346.2,1211.2 L1346.9,1210.3 L1347.7,1209.4 L1348.5,1208.4 L1349.2,1207.5 L1349.9,1206.6 L1350.7,1205.7 L1351.4,1204.8 L1352.1,1203.9 L1352.9,1203.0 L1353.6,1202.1 L1354.3,1201.2 L1355.0,1200.3 L1355.7,1199.4 L1356.4,1198.5 L1357.1,1197.6 L1357.8,1196.8 L1358.5,1195.9 L1359.2,1195.0 L1359.8,1194.2 L1360.5,1193.3 L1361.2,1192.5 L1361.8,1191.7 L1362.5,1190.8 L1363.1,1190.0 L1363.8,1189.2 L1364.4,1188.4 L1365.0,1187.6 L1365.7,1186.7 L1366.3,1186.0 L1366.9,1185.2 L1367.5,1184.4 L1368.1,1183.6 L1368.7,1182.8 L1369.3,1182.1 L1369.9,1181.3 L1370.5,1180.6 L1371.1,1179.8 L1371.6,1179.1 L1372.2,1178.3 L1372.8,1177.6 L1373.3,1176.9 L1373.9,1176.2 L1374.4,1175.5 L1375.0,1174.8 L1375.5,1174.1 L1376.0,1173.4 L1376.5,1172.8 L1377.0,1172.1 L1377.5,1171.4 L1378.0,1170.8 L1378.5,1170.1 L1379.0,1169.5 L1379.5,1168.9 L1380.0,1168.3 L1380.5,1167.7 L1380.9,1167.1 L1381.4,1166.5 L1381.8,1165.9 L1382.3,1165.3 L1382.7,1164.8 L1383.1,1164.2 L1383.5,1163.7 L1384.0,1163.1 L1384.4,1162.6 L1384.8,1162.1 L1385.2,1161.6 L1385.5,1161.1 L1385.9,1160.6 L1386.3,1160.1 L1386.6,1159.6 L1387.0,1159.2 L1387.3,1158.7 L1387.7,1158.3 L1388.0,1157.9 L1388.3,1157.4 L1388.6,1157.0 L1389.0,1156.6 L1389.2,1156.3 L1389.5,1155.9 L1389.8,1155.5 L1390.1,1155.2 L1390.3,1154.9 L1390.6,1154.5 L1390.8,1154.2 L1391.1,1153.9 L1391.3,1153.6 L1391.5,1153.4 L1391.7,1153.1 L1391.9,1152.9 L1392.0,1152.7 L1392.2,1152.5 L1392.3,1152.3 L1392.5,1152.1 L1392.6,1152.0 L1392.7,1151.9 L1392.7,1151.8 L1392.8,1151.7 L1392.8,1151.7 L1392.9,1151.6 L1392.9,1151.5 L1393.0,1151.4 L1393.1,1151.3 L1393.3,1151.1 L1393.4,1150.9 L1393.6,1150.7 L1393.7,1150.5 L1393.9,1150.3 L1394.1,1150.0 L1394.3,1149.7 L1394.5,1149.5 L1394.8,1149.2 L1395.0,1148.9 L1395.3,1148.6 L1395.5,1148.2 L1395.8,1147.9 L1396.1,1147.5 L1396.4,1147.2 L1396.6,1146.8 L1397.0,1146.4 L1397.3,1146.0 L1397.6,1145.6 L1397.9,1145.2 L1398.3,1144.8 L1398.6,1144.4 L1399.0,1143.9 L1399.3,1143.5 L1399.7,1143.0 L1400.1,1142.6 L1400.4,1142.1 L1400.8,1141.6 L1401.2,1141.1 L1401.6,1140.6 L1402.1,1140.1 L1402.5,1139.6 L1402.9,1139.1 L1403.3,1138.6 L1403.8,1138.0 L1404.2,1137.5 L1404.7,1136.9 L1405.1,1136.4 L1405.6,1135.8 L1406.1,1135.3 L1406.6,1134.7 L1407.1,1134.1 L1407.6,1133.5 L1408.1,1132.9 L1408.6,1132.3 L1409.1,1131.8 L1409.6,1131.1 L1410.1,1130.5 L1410.6,1129.9 L1411.2,1129.3 L1411.7,1128.7 L1412.3,1128.1 L1412.8,1127.4 L1413.4,1126.8 L1414.0,1126.1 L1414.5,1125.5 L1415.1,1124.8 L1415.7,1124.2 L1416.3,1123.5 L1416.9,1122.9 L1417.5,1122.2 L1418.1,1121.5 L1418.7,1120.8 L1419.3,1120.2 L1419.9,1119.5 L1420.6,1118.8 L1421.2,1118.1 L1421.8,1117.4 L1422.5,1116.7 L1423.1,1116.0 L1423.8,1115.3 L1424.4,1114.6 L1425.1,1113.9 L1425.8,1113.1 L1426.4,1112.4 L1427.1,1111.7 L1427.8,1111.0 L1428.5,1110.2 L1429.2,1109.5 L1429.9,1108.8 L1430.6,1108.0 L1431.3,1107.3 L1432.0,1106.5 L1432.7,1105.8 L1433.5,1105.0 L1434.2,1104.3 L1434.9,1103.5 L1435.7,1102.7 L1436.4,1102.0 L1437.1,1101.2 L1437.9,1100.4 L1438.7,1099.7 L1439.4,1098.9 L1440.2,1098.1 L1441.0,1097.3 L1441.7,1096.6 L1442.5,1095.8 L1443.3,1095.0 L1444.1,1094.2 L1444.9,1093.4 L1445.7,1092.6 L1446.5,1091.8 L1447.3,1091.0 L1448.1,1090.2 L1448.9,1089.4 L1449.8,1088.6 L1450.6,1087.8 L1451.4,1086.9 L1452.3,1086.1 L1453.1,1085.3 L1453.9,1084.5 L1454.8,1083.6 L1455.6,1082.8 L1456.5,1082.0 L1457.4,1081.1 L1458.2,1080.3 L1459.1,1079.5 L1460.0,1078.6 L1460.9,1077.7 L1461.7,1076.9 L1462.6,1076.0 L1463.5,1075.2 L1464.4,1074.3 L1465.3,1073.4 L1466.2,1072.5 L1467.1,1071.6 L1468.0,1070.7 L1469.0,1069.8 L1469.9,1068.8 L1470.8,1067.9 L1471.7,1066.9 L1472.7,1065.9 L1473.6,1064.9 L1474.6,1064.0 L1475.5,1063.0 L1476.5,1062.0 L1477.4,1061.0 L1478.4,1060.0 L1479.3,1059.0 L1480.3,1058.0 L1481.3,1057.0 L1482.2,1056.0 L1483.2,1055.0 L1484.2,1054.0 L1485.2,1052.9 L1486.2,1051.9 L1487.2,1050.9 L1488.2,1049.9 L1489.2,1048.8 L1490.2,1047.8 L1491.2,1046.8 L1492.2,1045.7 L1493.2,1044.7 L1494.2,1043.6 L1495.3,1042.6 L1496.3,1041.5 L1497.3,1040.4 L1498.4,1039.4 L1499.4,1038.3 L1500.5,1037.2 L1501.5,1036.2 L1502.6,1035.1 L1503.6,1034.0 L1504.7,1033.0 L1505.7,1031.9 L1506.8,1030.8 L1507.9,1029.8 L1509.0,1028.7 L1510.0,1027.7 L1511.1,1026.6 L1512.2,1025.6 L1513.3,1024.5 L1514.4,1023.4 L1515.5,1022.4 L1516.6,1021.3 L1517.7,1020.2 L1518.8,1019.1 L1519.9,1018.1 L1521.0,1017.0 L1522.2,1015.9 L1523.3,1014.8 L1524.4,1013.8 L1525.5,1012.7 L1526.7,1011.6 L1527.8,1010.5 L1529.0,1009.4 L1530.1,1008.3 L1531.2,1007.3 L1532.4,1006.2 L1533.6,1005.1 L1534.7,1004.0 L1535.9,1002.9 L1537.0,1001.8 L1538.2,1000.7 L1539.4,999.6 L1540.6,998.5 L1541.7,997.4 L1542.9,996.3 L1544.1,995.2 L1545.3,994.1 L1546.5,993.1 L1547.7,992.0 L1548.9,990.9 L1550.1,989.8 L1551.3,988.7 L1552.5,987.6 L1553.7,986.5 L1555.0,985.4 L1556.2,984.3 L1557.4,983.2 L1558.6,982.1 L1559.9,981.0 L1561.1,980.0 L1562.4,978.9 L1563.6,977.8 L1564.8,976.7 L1566.1,975.5 L1567.3,974.4 L1568.6,973.3 L1569.9,972.2 L1571.1,971.1 L1572.4,970.0 L1573.7,968.9 L1574.9,967.8 L1576.2,966.7 L1577.5,965.6 L1578.8,964.5 L1580.1,963.3 L1581.4,962.2 L1582.7,961.1 L1584.0,960.0 L1585.3,958.9 L1586.6,957.8 L1587.9,956.7 L1589.2,955.5 L1590.5,954.4 L1591.8,953.3 L1593.1,952.2 L1594.4,951.1 L1595.8,950.0 L1597.1,948.8 L1598.4,947.7 L1599.8,946.6 L1601.1,945.5 L1602.5,944.3 L1603.8,943.2 L1605.1,942.1 L1606.5,941.0 L1607.9,939.8 L1609.2,938.7 L1610.6,937.6 L1611.9,936.4 L1613.3,935.3 L1614.7,934.1 L1616.1,933.0 L1617.4,931.9 L1618.8,930.7 L1620.2,929.6 L1621.6,928.4 L1623.0,927.3 L1624.4,926.2 L1625.8,925.0 L1627.2,923.9 L1628.6,922.7 L1630.0,921.6 L1631.4,920.4 L1632.8,919.2 L1634.2,918.1 L1635.6,916.9 L1637.1,915.8 L1638.5,914.6 L1639.9,913.5 L1641.3,912.3 L1642.8,911.1 L1644.2,910.0 L1645.7,908.8 L1647.1,907.7 L1648.6,906.5 L1648.7,906.4"/>
</g>
</g>
<g id="arrows" fill="#000" stroke="#000">
<path d="M476.6,864.5L516,910.5" stroke-width="7" stroke-linecap="square" fill="none"/><path d="M440.1,821.1L493.1,851.2L460.1,877.9Z" stroke="none"/>
<path d="M1210,1193L1200.5,1213" stroke-width="6" stroke-linecap="square" fill="none"/><path d="M1221.7,1171.8L1198.9,1190.9L1221.7,1200.9Z" stroke="none"/>
<path d="M1496,980.2L1538,978.5" stroke-width="6" stroke-linecap="square" fill="none"/><path d="M1564.2,977.1L1535.3,966.2L1537.6,990.8Z" stroke="none"/>
<path d="M1419,1011.5L1448,1022" stroke-width="6" stroke-linecap="square" fill="none"/><path d="M1473.3,1032.5L1451.8,1011.1L1442.9,1032.5Z" stroke="none"/>
</g>
<g id="labels">
<text id="y200" x="251.60" y="94.00" font-size="78" text-anchor="end" fill="#000" letter-spacing="1.100">200</text>
<text id="y100" x="251.60" y="463.75" font-size="78" text-anchor="end" fill="#000" letter-spacing="1.100">100</text>
<text id="y0" x="250.50" y="833.50" font-size="78" text-anchor="end" fill="#000" letter-spacing="0.000">0</text>
<text id="y-100" x="251.60" y="1203.25" font-size="78" text-anchor="end" fill="#000" letter-spacing="1.100">-100</text>
<text id="y-200" x="251.60" y="1573.00" font-size="78" text-anchor="end" fill="#000" letter-spacing="1.100">-200</text>
<text id="x-1.0" x="206.00" y="1639.00" font-size="78" text-anchor="start" fill="#000" letter-spacing="0.400">-1.0</text>
<text id="x-0.5" x="572.00" y="1639.00" font-size="78" text-anchor="start" fill="#000" letter-spacing="0.533">-0.5</text>
<text id="x0.0" x="953.00" y="1639.00" font-size="78" text-anchor="start" fill="#000" letter-spacing="1.600">0.0</text>
<text id="x0.5" x="1319.50" y="1639.00" font-size="78" text-anchor="start" fill="#000" letter-spacing="0.900">0.5</text>
<text id="x1.0" x="1688.00" y="1639.00" font-size="78" text-anchor="start" fill="#000" letter-spacing="0.800">1.0</text>
<text id="BT" x="917.00" y="1742.30" font-size="77" text-anchor="start" fill="#000" letter-spacing="0.550"><tspan font-style="italic">B</tspan> (T)</text>
<text id="RT" x="327.00" y="202.70" font-size="77" text-anchor="start" fill="#000" letter-spacing="1.400">R.T.</text>
<text id="labC" x="653.00" y="233.70" font-size="77" text-anchor="start" fill="#008000" letter-spacing="0.475">Annealed sample C</text>
<text id="labB1" x="1314.00" y="342.80" font-size="77" text-anchor="start" fill="#ff0000" letter-spacing="0.143">Annealed</text>
<text id="labB2" x="1388.50" y="412.60" font-size="77" text-anchor="start" fill="#ff0000" letter-spacing="0.286">sample B</text>
<text id="labA1" x="1309.50" y="665.10" font-size="77" text-anchor="start" fill="#0000cd" letter-spacing="0.200">Annealed</text>
<text id="labA2" x="1383.00" y="734.40" font-size="77" text-anchor="start" fill="#0000cd" letter-spacing="0.771">sample A</text>
<text id="labBA" x="285.50" y="971.90" font-size="77" text-anchor="start" fill="#b010d8" letter-spacing="0.507">Before annealing</text>
<text id="i80" x="1132.50" y="935.30" font-size="62" text-anchor="end" fill="#000" letter-spacing="0.000">80</text>
<text id="i40" x="1132.50" y="1056.80" font-size="62" text-anchor="end" fill="#000" letter-spacing="0.000">40</text>
<text id="i0" x="1132.50" y="1178.30" font-size="62" text-anchor="end" fill="#000" letter-spacing="0.000">0</text>
<text id="i-40" x="1132.50" y="1299.80" font-size="62" text-anchor="end" fill="#000" letter-spacing="0.000">-40</text>
<text id="i-80" x="1132.50" y="1421.30" font-size="62" text-anchor="end" fill="#000" letter-spacing="0.000">-80</text>
<text id="ix-0.2" x="1100.50" y="1487.00" font-size="62" text-anchor="start" fill="#000" letter-spacing="-1.067">-0.2</text>
<text id="ix-0.1" x="1222.00" y="1487.00" font-size="62" text-anchor="start" fill="#000" letter-spacing="-1.333">-0.1</text>
<text id="ix0.0" x="1355.00" y="1487.00" font-size="62" text-anchor="start" fill="#000" letter-spacing="-0.400">0.0</text>
<text id="ix0.1" x="1476.50" y="1487.00" font-size="62" text-anchor="start" fill="#000" letter-spacing="-1.200">0.1</text>
<text id="ix0.2" x="1598.50" y="1487.00" font-size="62" text-anchor="start" fill="#000" letter-spacing="-1.000">0.2</text>
<text id="iA" x="1359.00" y="1023.60" font-size="61" text-anchor="start" fill="#0000cd" letter-spacing="0.000">A</text>
<text id="iC" x="1440.50" y="994.30" font-size="64" text-anchor="start" fill="#008000" letter-spacing="0.000">C</text>
<text id="iB" x="1529.00" y="1127.40" font-size="60" text-anchor="start" fill="#ff0000" letter-spacing="0.000">B</text>
<text id="iBA" x="1170.00" y="1261.90" font-size="52.5" text-anchor="start" fill="#b010d8" letter-spacing="-0.600">BA</text>
<text id="ML" transform="translate(96.1,995.00) rotate(-90)" font-size="77" text-anchor="start" letter-spacing="0.875"><tspan font-style="italic">M</tspan> (emu/g)</text>
</g>
</svg></body></html>
